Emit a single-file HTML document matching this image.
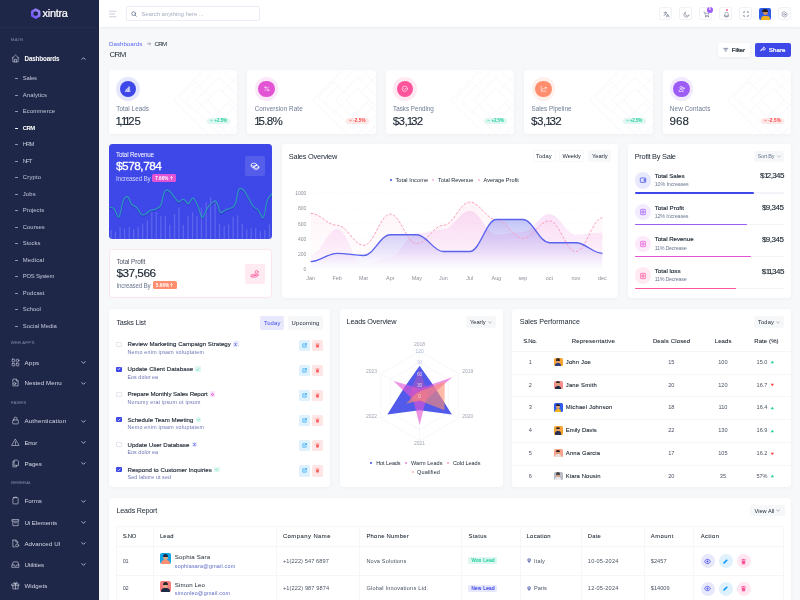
<!DOCTYPE html>
<html><head><meta charset="utf-8"><title>CRM</title>
<style>
*{box-sizing:border-box;margin:0;padding:0}
html,body{width:800px;height:600px;overflow:hidden;background:#f7f8fa;font-family:"Liberation Sans",sans-serif;color:#212b37}
#root{will-change:transform;position:absolute;left:0;top:0;width:800px;height:600px;overflow:hidden;background:#f7f8fa}
.a{position:absolute}
.t{position:absolute;white-space:nowrap;line-height:1}
.card{position:absolute;background:#fff;border-radius:3.5px;box-shadow:0 1px 4px rgba(10,10,40,.04)}
#sb{position:absolute;left:0;top:0;width:99px;height:600px;background:#1f2749}
#sb .dash{position:absolute;left:15.3px;width:3.2px;height:.9px;background:#979eb8;border-radius:1px}
#sb svg.ic{position:absolute;left:11px;width:9px;height:9px;fill:none;stroke:#d5d9e6;stroke-width:1.6;stroke-linecap:round;stroke-linejoin:round}
#sb svg.ch{position:absolute;left:81px;width:5px;height:5px;fill:none;stroke:#d0d4e2;stroke-width:1.9;stroke-linecap:round;stroke-linejoin:round}
#hd{position:absolute;left:99px;top:0;width:701px;height:27px;background:#fff;box-shadow:0 1px 3px rgba(10,10,40,.05)}
.hb{position:absolute;top:7.2px;width:13.3px;height:13.3px;border:.9px solid #eff1f6;border-radius:2.5px;background:#fff}
.hb svg{position:absolute;left:2.7px;top:2.7px;width:7px;height:7px;fill:none;stroke:#5b6581;stroke-width:1.7;stroke-linecap:round;stroke-linejoin:round}
</style></head><body><div id="root">
<!-- sidebar -->
<div id="sb">
<div class="a" style="left:0;top:27px;width:99px;height:1px;background:#27305394"></div>
<svg class="a" style="left:29.8px;top:7.7px;width:11.4px;height:11.4px" viewBox="0 0 22 22"><defs><linearGradient id="lg" x1="0" y1="1" x2="1" y2="0"><stop offset="0" stop-color="#6f4ff2"/><stop offset="1" stop-color="#9a8cfb"/></linearGradient></defs><path d="M11 3.3 L17.7 7.15 V14.85 L11 18.7 L4.3 14.85 V7.15 Z" fill="none" stroke="url(#lg)" stroke-width="4.9" stroke-linejoin="round"/></svg>
<div class="t" style="left:42.60px;top:8.27px;font-size:11px;color:#fff;letter-spacing:-0.301px;-webkit-text-stroke:0.22px #fff;">xintra</div>
<div class="t" style="left:10.80px;top:38.09px;font-size:4.3px;color:#6d7596;letter-spacing:0.483px;-webkit-text-stroke:0.12px #6d7596;">MAIN</div>
<svg class="ic" style="top:53.6px" viewBox="0 0 24 24"><path d="M3 11 L12 3 L21 11 M5 9.5 V21 H19 V9.5 M9.5 21 V14 H14.5 V21"/></svg>
<div class="t" style="left:24.50px;top:55.91px;font-size:6.3px;color:#fff;font-weight:bold;letter-spacing:-0.156px;">Dashboards</div>
<svg class="ch" style="top:56px" viewBox="0 0 12 12"><path d="M2 8 L6 4 L10 8"/></svg>
<div class="dash" style="top:78.0px"></div>
<div class="t" style="left:22.80px;top:76.06px;font-size:5.9px;color:#c3c8d9;letter-spacing:-0.125px;">Sales</div>
<div class="dash" style="top:94.5px"></div>
<div class="t" style="left:22.80px;top:92.57px;font-size:5.9px;color:#c3c8d9;letter-spacing:0.084px;">Analytics</div>
<div class="dash" style="top:111.0px"></div>
<div class="t" style="left:22.80px;top:109.09px;font-size:5.9px;color:#c3c8d9;letter-spacing:0.102px;">Ecommerce</div>
<div class="dash" style="top:127.5px;background:#fff"></div>
<div class="t" style="left:22.80px;top:125.60px;font-size:5.9px;color:#fff;font-weight:bold;letter-spacing:-0.586px;">CRM</div>
<div class="dash" style="top:144.0px"></div>
<div class="t" style="left:22.80px;top:142.12px;font-size:5.9px;color:#c3c8d9;letter-spacing:-0.961px;">HRM</div>
<div class="dash" style="top:160.5px"></div>
<div class="t" style="left:22.80px;top:158.63px;font-size:5.9px;color:#c3c8d9;letter-spacing:-0.977px;">NFT</div>
<div class="dash" style="top:177.0px"></div>
<div class="t" style="left:22.80px;top:175.15px;font-size:5.9px;color:#c3c8d9;letter-spacing:0.188px;">Crypto</div>
<div class="dash" style="top:193.6px"></div>
<div class="t" style="left:22.80px;top:191.66px;font-size:5.9px;color:#c3c8d9;letter-spacing:0.116px;">Jobs</div>
<div class="dash" style="top:210.1px"></div>
<div class="t" style="left:22.80px;top:208.18px;font-size:5.9px;color:#c3c8d9;">Projects</div>
<div class="dash" style="top:226.6px"></div>
<div class="t" style="left:22.80px;top:224.69px;font-size:5.9px;color:#c3c8d9;letter-spacing:0.010px;">Courses</div>
<div class="dash" style="top:243.1px"></div>
<div class="t" style="left:22.80px;top:241.21px;font-size:5.9px;color:#c3c8d9;letter-spacing:-0.017px;">Stocks</div>
<div class="dash" style="top:259.6px"></div>
<div class="t" style="left:22.80px;top:257.72px;font-size:5.9px;color:#c3c8d9;letter-spacing:0.165px;">Medical</div>
<div class="dash" style="top:276.1px"></div>
<div class="t" style="left:22.80px;top:274.24px;font-size:5.9px;color:#c3c8d9;letter-spacing:-0.247px;">POS System</div>
<div class="dash" style="top:292.6px"></div>
<div class="t" style="left:22.80px;top:290.75px;font-size:5.9px;color:#c3c8d9;letter-spacing:0.051px;">Podcast</div>
<div class="dash" style="top:309.2px"></div>
<div class="t" style="left:22.80px;top:307.27px;font-size:5.9px;color:#c3c8d9;">School</div>
<div class="dash" style="top:325.7px"></div>
<div class="t" style="left:22.80px;top:323.78px;font-size:5.9px;color:#c3c8d9;letter-spacing:0.033px;">Social Media</div>
<div class="t" style="left:10.80px;top:341.49px;font-size:4.3px;color:#6d7596;letter-spacing:0.183px;-webkit-text-stroke:0.12px #6d7596;">WEB APPS</div>
<div class="t" style="left:10.80px;top:400.99px;font-size:4.3px;color:#6d7596;letter-spacing:0.200px;-webkit-text-stroke:0.12px #6d7596;">PAGES</div>
<div class="t" style="left:10.80px;top:481.39px;font-size:4.3px;color:#6d7596;letter-spacing:0.026px;-webkit-text-stroke:0.12px #6d7596;">GENERAL</div>
<svg class="ic" style="top:357.6px" viewBox="0 0 24 24"><rect x="3" y="3" width="7" height="7" rx="1.5"/><rect x="3" y="14" width="7" height="7" rx="1.5"/><rect x="14" y="14" width="7" height="7" rx="1.5"/><circle cx="17.5" cy="6.5" r="3.5"/></svg>
<div class="t" style="left:24.40px;top:359.56px;font-size:6.2px;color:#d5d9e6;letter-spacing:0.230px;">Apps</div>
<svg class="ch" style="top:360.0px" viewBox="0 0 12 12"><path d="M2 4 L6 8 L10 4"/></svg>
<svg class="ic" style="top:378.2px" viewBox="0 0 24 24"><path d="M6 3 H14 L19 8 V21 H6 Z M14 3 V8 H19"/><circle cx="10" cy="15" r="3"/></svg>
<div class="t" style="left:24.40px;top:380.16px;font-size:6.2px;color:#d5d9e6;letter-spacing:0.049px;">Nested Menu</div>
<svg class="ch" style="top:380.6px" viewBox="0 0 12 12"><path d="M2 4 L6 8 L10 4"/></svg>
<svg class="ic" style="top:416.4px" viewBox="0 0 24 24"><rect x="4.5" y="10.5" width="15" height="10.5" rx="2"/><path d="M8 10.5 V7 a4 4 0 0 1 8 0 V10.5"/></svg>
<div class="t" style="left:24.40px;top:418.36px;font-size:6.2px;color:#d5d9e6;letter-spacing:0.199px;">Authentication</div>
<svg class="ch" style="top:418.8px" viewBox="0 0 12 12"><path d="M2 4 L6 8 L10 4"/></svg>
<svg class="ic" style="top:437.6px" viewBox="0 0 24 24"><path d="M12 3.5 L21.5 20 H2.5 Z M12 10 V14.5 M12 17.3 V17.5"/></svg>
<div class="t" style="left:24.40px;top:439.56px;font-size:6.2px;color:#d5d9e6;letter-spacing:-0.188px;">Error</div>
<svg class="ch" style="top:440.0px" viewBox="0 0 12 12"><path d="M2 4 L6 8 L10 4"/></svg>
<svg class="ic" style="top:458.7px" viewBox="0 0 24 24"><path d="M9 3 H17 L20 6 V17 H9 Z"/><path d="M9 7 H5 V21 H15 V17"/></svg>
<div class="t" style="left:24.40px;top:460.66px;font-size:6.2px;color:#d5d9e6;letter-spacing:-0.012px;">Pages</div>
<svg class="ch" style="top:461.1px" viewBox="0 0 12 12"><path d="M2 4 L6 8 L10 4"/></svg>
<svg class="ic" style="top:496.4px" viewBox="0 0 24 24"><rect x="5" y="4.5" width="14" height="16.5" rx="2"/><path d="M9 4.5 V3 H15 V4.5"/></svg>
<div class="t" style="left:24.40px;top:498.36px;font-size:6.2px;color:#d5d9e6;letter-spacing:-0.008px;">Forms</div>
<svg class="ch" style="top:498.8px" viewBox="0 0 12 12"><path d="M2 4 L6 8 L10 4"/></svg>
<svg class="ic" style="top:517.6px" viewBox="0 0 24 24"><path d="M3.5 4 H20.5 V8.5 H3.5 Z M5 8.5 V20.5 H19 V8.5 M9.5 12.5 H14.5"/></svg>
<div class="t" style="left:24.40px;top:519.56px;font-size:6.2px;color:#d5d9e6;letter-spacing:-0.056px;">Ui Elements</div>
<svg class="ch" style="top:520.0px" viewBox="0 0 12 12"><path d="M2 4 L6 8 L10 4"/></svg>
<svg class="ic" style="top:538.7px" viewBox="0 0 24 24"><path d="M5 3 H13 L18 8 V11 M13 3 V8 H18 M5 3 V21 H11"/><circle cx="16.5" cy="17" r="4"/></svg>
<div class="t" style="left:24.40px;top:540.66px;font-size:6.2px;color:#d5d9e6;letter-spacing:0.056px;">Advanced UI</div>
<svg class="ch" style="top:541.1px" viewBox="0 0 12 12"><path d="M2 4 L6 8 L10 4"/></svg>
<svg class="ic" style="top:559.8px" viewBox="0 0 24 24"><path d="M3 13 L6 5 H18 L21 13 V19.5 H3 Z M3 13 H8.5 a3.5 3.5 0 0 0 7 0 H21"/></svg>
<div class="t" style="left:24.40px;top:561.76px;font-size:6.2px;color:#d5d9e6;letter-spacing:-0.019px;">Utilities</div>
<svg class="ch" style="top:562.2px" viewBox="0 0 12 12"><path d="M2 4 L6 8 L10 4"/></svg>
<svg class="ic" style="top:580.9px" viewBox="0 0 24 24"><rect x="3" y="8" width="18" height="4.5"/><path d="M5 12.5 V21 H19 V12.5 M12 8 V21 M12 8 C9 8 7 6.5 7.5 4.5 C8.5 2.5 11.5 4 12 8 C12.5 4 15.5 2.5 16.5 4.5 C17 6.5 15 8 12 8"/></svg>
<div class="t" style="left:24.40px;top:582.86px;font-size:6.2px;color:#d5d9e6;letter-spacing:0.107px;">Widgets</div>
</div>
<!-- top -->
<div id="hd"></div>
<svg class="a" style="left:109px;top:10px;width:8px;height:8px" viewBox="0 0 16 16" fill="none" stroke="#b6bdd0" stroke-width="1.5" stroke-linecap="round"><path d="M1 2.5 H14 M1 8 H11 M1 13.5 H14"/></svg>
<div class="a" style="left:126px;top:6px;width:133.5px;height:14.5px;border:1px solid #e9edf6;border-radius:2px;background:#fff"></div>
<svg class="a" style="left:130.5px;top:10.5px;width:6px;height:6px" viewBox="0 0 12 12" fill="none" stroke="#6c7590" stroke-width="1.6" stroke-linecap="round"><circle cx="5.3" cy="5.3" r="3.8"/><path d="M8.2 8.2 L10.5 10.5"/></svg>
<div class="t" style="left:141.25px;top:11.31px;font-size:6.1px;color:#a8aec0;letter-spacing:-0.096px;">Search anything here ...</div>
<div class="hb" style="left:659.1px"><svg viewBox="0 0 24 24"><path d="M3 6 H13 M8 3 V6 M11.5 6 C10.5 11 7 14 3.5 15.5 M5.5 9.5 C7 12 9 13.5 11.5 14.5 M12 21 L16.5 10.5 L21 21 M13.8 17.5 H19.2"/></svg></div>
<div class="hb" style="left:679.1px"><svg viewBox="0 0 24 24"><path d="M20.5 14.5 A9 9 0 1 1 9.5 3.5 A7 7 0 0 0 20.5 14.5 Z"/></svg></div>
<div class="hb" style="left:699.1px"><svg viewBox="0 0 24 24"><path d="M3 4 H6 L8.5 15.5 H18.5 L20.5 7.5 H7"/><circle cx="9.5" cy="19.5" r="1.3"/><circle cx="17.5" cy="19.5" r="1.3"/></svg></div>
<div class="a" style="left:706.8px;top:6.9px;width:5.8px;height:5.8px;border-radius:50%;background:#9e5cf7"></div>
<div class="t" style="left:708.7px;top:8px;font-size:3.8px;color:#fff;font-weight:bold">5</div>
<div class="hb" style="left:719.1px"><svg viewBox="0 0 24 24"><path d="M6 17 V10.5 a6 6 0 0 1 12 0 V17 Z M4 17 H20 M10 20.5 H14"/></svg></div>
<div class="a" style="left:725.8px;top:9.2px;width:2.2px;height:2.2px;border-radius:50%;background:#fe549b"></div>
<div class="hb" style="left:739.1px"><svg viewBox="0 0 24 24" style="stroke-width:2.6;left:3.2px;top:3.2px;width:6px;height:6px"><path d="M3 8.5 V3 H8.5 M15.5 3 H21 V8.5 M21 15.5 V21 H15.5 M8.5 21 H3 V15.5" stroke-linecap="butt"/></svg></div>
<div class="a" style="left:759.25px;top:8px;width:12px;height:12px;border-radius:2px;background:#2f5bea;overflow:hidden">
  <div class="a" style="left:3.6px;top:2px;width:4.8px;height:5.4px;border-radius:50%;background:#c98a5e"></div>
  <div class="a" style="left:3.2px;top:1.2px;width:5.6px;height:2.8px;border-radius:3px 3px 0 0;background:#2a1c16"></div>
  <div class="a" style="left:1.8px;top:7.6px;width:8.6px;height:6px;border-radius:3px 3px 0 0;background:#f2b21c"></div>
</div>
<div class="hb" style="left:777.5px"><svg viewBox="0 0 24 24"><circle cx="12" cy="12" r="3.2"/><path d="M12 2.5 L20.2 7.25 V16.75 L12 21.5 L3.8 16.75 V7.25 Z"/></svg></div>

<div class="t" style="left:109.00px;top:41.36px;font-size:6.2px;color:#5c67f7;letter-spacing:-0.014px;">Dashboards</div>
<svg class="a" style="left:146.8px;top:42px;width:4px;height:3.6px" viewBox="0 0 10 9" fill="none" stroke="#6e7a93" stroke-width="1.3" stroke-linecap="round" stroke-linejoin="round"><path d="M1 4.5 H9 M6 1.5 L9 4.5 L6 7.5"/></svg>
<div class="t" style="left:154.60px;top:41.36px;font-size:6.2px;color:#212b37;letter-spacing:-0.797px;">CRM</div>
<div class="t" style="left:109.40px;top:50.93px;font-size:7.9px;color:#212b37;letter-spacing:-0.542px;">CRM</div>
<div class="a" style="left:717.5px;top:42.5px;width:32.5px;height:14px;background:#fff;border-radius:2px;box-shadow:0 1px 3px rgba(10,10,40,.06)"></div>
<svg class="a" style="left:723px;top:46.6px;width:5.5px;height:5.5px" viewBox="0 0 12 12" fill="none" stroke="#5b6581" stroke-width="1.5" stroke-linecap="round"><path d="M1.5 3 H10.5 M3.5 6 H8.5 M5.2 9 H6.8"/></svg>
<div class="t" style="left:731.75px;top:46.96px;font-size:6.2px;color:#212b37;letter-spacing:-0.100px;-webkit-text-stroke:0.22px #212b37;">Filter</div>
<div class="a" style="left:754.6px;top:42.5px;width:36.6px;height:14px;background:#3e48e8;border-radius:2px"></div>
<svg class="a" style="left:759.5px;top:46px;width:6.5px;height:6.5px" viewBox="0 0 14 14" fill="none" stroke="#fff" stroke-width="1.6" stroke-linecap="round" stroke-linejoin="round"><path d="M8 2.5 L12 6 L8 9.5 V7.3 C5 7.3 3 8.3 1.8 11 C2 7.5 4 4.8 8 4.6 Z"/></svg>
<div class="t" style="left:768.75px;top:46.96px;font-size:6.2px;color:#fff;letter-spacing:0.059px;-webkit-text-stroke:0.22px #fff;">Share</div>
<div class="card" style="left:109.0px;top:70px;width:128.4px;height:63.5px;overflow:hidden"><svg class="a" style="right:0;top:0;width:75px;height:63.5px" viewBox="0 0 75 63.5" fill="none" stroke="#fafafd" stroke-width="1.1"><g transform="translate(57 30) rotate(45)"><rect x="-8" y="-8" width="16" height="16"/><rect x="-16" y="-16" width="32" height="32"/><rect x="-24" y="-24" width="48" height="48"/><rect x="-32" y="-32" width="64" height="64"/><rect x="-4" y="-30" width="22" height="22"/><rect x="8" y="-4" width="22" height="22"/><rect x="-30" y="4" width="22" height="22"/></g></svg></div>
<div class="a" style="left:116.30px;top:77px;width:23.6px;height:23.6px;border-radius:50%;background:rgba(62,72,232,0.13)"></div>
<div class="a" style="left:119.85px;top:80.55px;width:16.5px;height:16.5px;border-radius:50%;background:#3e48e8"></div>
<svg class="a" style="left:124.35px;top:85.05px;width:7.5px;height:7.5px" viewBox="0 0 24 24" fill="none" stroke="#fff" stroke-width="1.9" stroke-linecap="round" stroke-linejoin="round"><path d="M4 20 H20 M6 20 V15 H10 V20 M10 20 V11 H14 V20 M14 20 V6 H18 V20" /></svg>
<div class="t" style="left:116.25px;top:106.21px;font-size:6.3px;color:#6e7a93;letter-spacing:0.053px;">Total Leads</div>
<div class="t" style="left:115.40px;top:115.51px;font-size:11.4px;color:#212b37;-webkit-text-stroke:0.12px #212b37;"><span style="letter-spacing:-2.4px">1</span><span style="letter-spacing:-1.4px">,</span><span style="letter-spacing:-2.4px">11</span>25</div>
<div class="a" style="left:207.30px;top:117.5px;width:23px;height:6.6px;border-radius:3.3px;background:#dff7f0"></div>
<svg class="a" style="left:210.30px;top:119.3px;width:3px;height:3px" viewBox="0 0 6 6" fill="none" stroke="#21ce9e" stroke-width="1.2" stroke-linecap="round" stroke-linejoin="round"><path d="M1 4.2 L3 1.8 L5 4.2"/></svg>
<div class="t" style="left:214.60px;top:119.40px;font-size:4.5px;color:#21ce9e;font-weight:bold;letter-spacing:-0.098px;">+2.5%</div>
<div class="card" style="left:247.4px;top:70px;width:128.4px;height:63.5px;overflow:hidden"><svg class="a" style="right:0;top:0;width:75px;height:63.5px" viewBox="0 0 75 63.5" fill="none" stroke="#fafafd" stroke-width="1.1"><g transform="translate(57 30) rotate(45)"><rect x="-8" y="-8" width="16" height="16"/><rect x="-16" y="-16" width="32" height="32"/><rect x="-24" y="-24" width="48" height="48"/><rect x="-32" y="-32" width="64" height="64"/><rect x="-4" y="-30" width="22" height="22"/><rect x="8" y="-4" width="22" height="22"/><rect x="-30" y="4" width="22" height="22"/></g></svg></div>
<div class="a" style="left:254.70px;top:77px;width:23.6px;height:23.6px;border-radius:50%;background:rgba(227,84,212,0.13)"></div>
<div class="a" style="left:258.25px;top:80.55px;width:16.5px;height:16.5px;border-radius:50%;background:#e354d4"></div>
<svg class="a" style="left:262.75px;top:85.05px;width:7.5px;height:7.5px" viewBox="0 0 24 24" fill="none" stroke="#fff" stroke-width="1.9" stroke-linecap="round" stroke-linejoin="round"><path d="M18 6 L6 18"/><circle cx="7.5" cy="7.5" r="2.2"/><circle cx="16.5" cy="16.5" r="2.2"/></svg>
<div class="t" style="left:254.65px;top:106.21px;font-size:6.3px;color:#6e7a93;letter-spacing:0.078px;">Conversion Rate</div>
<div class="t" style="left:254.30px;top:115.42px;font-size:11.6px;color:#212b37;-webkit-text-stroke:0.12px #212b37;"><span style="letter-spacing:-2.2px">1</span><span style="letter-spacing:-0.7px">5.8%</span></div>
<div class="a" style="left:345.70px;top:117.5px;width:23px;height:6.6px;border-radius:3.3px;background:#fee7e7"></div>
<svg class="a" style="left:348.70px;top:119.3px;width:3px;height:3px" viewBox="0 0 6 6" fill="none" stroke="#fb4242" stroke-width="1.2" stroke-linecap="round" stroke-linejoin="round"><path d="M1 1.8 L3 4.2 L5 1.8"/></svg>
<div class="t" style="left:353.00px;top:119.40px;font-size:4.5px;color:#fb4242;font-weight:bold;letter-spacing:0.184px;">-2.5%</div>
<div class="card" style="left:385.8px;top:70px;width:128.4px;height:63.5px;overflow:hidden"><svg class="a" style="right:0;top:0;width:75px;height:63.5px" viewBox="0 0 75 63.5" fill="none" stroke="#fafafd" stroke-width="1.1"><g transform="translate(57 30) rotate(45)"><rect x="-8" y="-8" width="16" height="16"/><rect x="-16" y="-16" width="32" height="32"/><rect x="-24" y="-24" width="48" height="48"/><rect x="-32" y="-32" width="64" height="64"/><rect x="-4" y="-30" width="22" height="22"/><rect x="8" y="-4" width="22" height="22"/><rect x="-30" y="4" width="22" height="22"/></g></svg></div>
<div class="a" style="left:393.10px;top:77px;width:23.6px;height:23.6px;border-radius:50%;background:rgba(254,84,155,0.13)"></div>
<div class="a" style="left:396.65px;top:80.55px;width:16.5px;height:16.5px;border-radius:50%;background:#fe549b"></div>
<svg class="a" style="left:401.15px;top:85.05px;width:7.5px;height:7.5px" viewBox="0 0 24 24" fill="none" stroke="#fff" stroke-width="1.9" stroke-linecap="round" stroke-linejoin="round"><circle cx="12" cy="12" r="8.5"/><path d="M8.5 12.2 L11 14.7 L15.8 9.8"/></svg>
<div class="t" style="left:393.05px;top:106.21px;font-size:6.3px;color:#6e7a93;letter-spacing:-0.014px;">Tasks Pending</div>
<div class="t" style="left:392.70px;top:115.42px;font-size:11.6px;color:#212b37;-webkit-text-stroke:0.12px #212b37;"><span style="letter-spacing:-0.55px">$3</span><span style="letter-spacing:-1.0px">,</span><span style="letter-spacing:-2.2px">1</span><span style="letter-spacing:-0.55px">32</span></div>
<div class="a" style="left:484.10px;top:117.5px;width:23px;height:6.6px;border-radius:3.3px;background:#dff7f0"></div>
<svg class="a" style="left:487.10px;top:119.3px;width:3px;height:3px" viewBox="0 0 6 6" fill="none" stroke="#21ce9e" stroke-width="1.2" stroke-linecap="round" stroke-linejoin="round"><path d="M1 4.2 L3 1.8 L5 4.2"/></svg>
<div class="t" style="left:491.40px;top:119.40px;font-size:4.5px;color:#21ce9e;font-weight:bold;letter-spacing:-0.098px;">+2.5%</div>
<div class="card" style="left:524.2px;top:70px;width:128.4px;height:63.5px;overflow:hidden"><svg class="a" style="right:0;top:0;width:75px;height:63.5px" viewBox="0 0 75 63.5" fill="none" stroke="#fafafd" stroke-width="1.1"><g transform="translate(57 30) rotate(45)"><rect x="-8" y="-8" width="16" height="16"/><rect x="-16" y="-16" width="32" height="32"/><rect x="-24" y="-24" width="48" height="48"/><rect x="-32" y="-32" width="64" height="64"/><rect x="-4" y="-30" width="22" height="22"/><rect x="8" y="-4" width="22" height="22"/><rect x="-30" y="4" width="22" height="22"/></g></svg></div>
<div class="a" style="left:531.50px;top:77px;width:23.6px;height:23.6px;border-radius:50%;background:rgba(255,142,111,0.13)"></div>
<div class="a" style="left:535.05px;top:80.55px;width:16.5px;height:16.5px;border-radius:50%;background:#ff8e6f"></div>
<svg class="a" style="left:539.55px;top:85.05px;width:7.5px;height:7.5px" viewBox="0 0 24 24" fill="none" stroke="#fff" stroke-width="1.9" stroke-linecap="round" stroke-linejoin="round"><path d="M4 4 V20 H20 M7 15 L11 11 L14 13.5 L19 8 M19 8 H16 M19 8 V11"/></svg>
<div class="t" style="left:531.45px;top:106.21px;font-size:6.3px;color:#6e7a93;letter-spacing:0.007px;">Sales Pipeline</div>
<div class="t" style="left:531.10px;top:115.42px;font-size:11.6px;color:#212b37;-webkit-text-stroke:0.12px #212b37;"><span style="letter-spacing:-0.55px">$3</span><span style="letter-spacing:-1.0px">,</span><span style="letter-spacing:-2.2px">1</span><span style="letter-spacing:-0.55px">32</span></div>
<div class="a" style="left:622.50px;top:117.5px;width:23px;height:6.6px;border-radius:3.3px;background:#dff7f0"></div>
<svg class="a" style="left:625.50px;top:119.3px;width:3px;height:3px" viewBox="0 0 6 6" fill="none" stroke="#21ce9e" stroke-width="1.2" stroke-linecap="round" stroke-linejoin="round"><path d="M1 4.2 L3 1.8 L5 4.2"/></svg>
<div class="t" style="left:629.80px;top:119.40px;font-size:4.5px;color:#21ce9e;font-weight:bold;letter-spacing:-0.098px;">+2.5%</div>
<div class="card" style="left:662.6px;top:70px;width:128.4px;height:63.5px;overflow:hidden"><svg class="a" style="right:0;top:0;width:75px;height:63.5px" viewBox="0 0 75 63.5" fill="none" stroke="#fafafd" stroke-width="1.1"><g transform="translate(57 30) rotate(45)"><rect x="-8" y="-8" width="16" height="16"/><rect x="-16" y="-16" width="32" height="32"/><rect x="-24" y="-24" width="48" height="48"/><rect x="-32" y="-32" width="64" height="64"/><rect x="-4" y="-30" width="22" height="22"/><rect x="8" y="-4" width="22" height="22"/><rect x="-30" y="4" width="22" height="22"/></g></svg></div>
<div class="a" style="left:669.90px;top:77px;width:23.6px;height:23.6px;border-radius:50%;background:rgba(158,92,247,0.13)"></div>
<div class="a" style="left:673.45px;top:80.55px;width:16.5px;height:16.5px;border-radius:50%;background:#9e5cf7"></div>
<svg class="a" style="left:677.95px;top:85.05px;width:7.5px;height:7.5px" viewBox="0 0 24 24" fill="none" stroke="#fff" stroke-width="1.9" stroke-linecap="round" stroke-linejoin="round"><circle cx="10" cy="8.5" r="4"/><path d="M3 19.5 C3 15.5 6 14 10 14 C14 14 17 15.5 17 19.5 Z M19 8 V13 M16.5 10.5 H21.5"/></svg>
<div class="t" style="left:669.85px;top:106.21px;font-size:6.3px;color:#6e7a93;letter-spacing:0.118px;">New Contacts</div>
<div class="t" style="left:669.50px;top:115.42px;font-size:11.6px;color:#212b37;-webkit-text-stroke:0.12px #212b37;">968</div>
<div class="a" style="left:760.90px;top:117.5px;width:23px;height:6.6px;border-radius:3.3px;background:#fee7e7"></div>
<svg class="a" style="left:763.90px;top:119.3px;width:3px;height:3px" viewBox="0 0 6 6" fill="none" stroke="#fb4242" stroke-width="1.2" stroke-linecap="round" stroke-linejoin="round"><path d="M1 1.8 L3 4.2 L5 1.8"/></svg>
<div class="t" style="left:768.20px;top:119.40px;font-size:4.5px;color:#fb4242;font-weight:bold;letter-spacing:0.184px;">-2.5%</div>
<!-- row2 -->
<div class="a" style="left:109.2px;top:143.9px;width:162.9px;height:95px;background:#3e48e8;border-radius:3.5px;overflow:hidden">
<svg class="a" style="left:0;top:0;width:162.9px;height:95px" viewBox="0 0 162.9 95"><rect x="1.52" y="86.04" width="1.3" height="8.96" fill="rgba(255,255,255,.16)"/><rect x="5.77" y="87.52" width="1.3" height="7.48" fill="rgba(255,255,255,.16)"/><rect x="10.45" y="83.27" width="1.3" height="11.73" fill="rgba(255,255,255,.16)"/><rect x="14.91" y="84.55" width="1.3" height="10.45" fill="rgba(255,255,255,.16)"/><rect x="19.59" y="83.27" width="1.3" height="11.73" fill="rgba(255,255,255,.16)"/><rect x="24.05" y="85.40" width="1.3" height="9.60" fill="rgba(255,255,255,.16)"/><rect x="28.51" y="83.27" width="1.3" height="11.73" fill="rgba(255,255,255,.16)"/><rect x="32.97" y="79.66" width="1.3" height="15.34" fill="rgba(255,255,255,.16)"/><rect x="37.65" y="76.47" width="1.3" height="18.53" fill="rgba(255,255,255,.16)"/><rect x="42.11" y="67.97" width="1.3" height="27.03" fill="rgba(255,255,255,.16)"/><rect x="46.57" y="67.97" width="1.3" height="27.03" fill="rgba(255,255,255,.16)"/><rect x="51.25" y="72.22" width="1.3" height="22.78" fill="rgba(255,255,255,.16)"/><rect x="55.71" y="72.22" width="1.3" height="22.78" fill="rgba(255,255,255,.16)"/><rect x="60.17" y="80.72" width="1.3" height="14.28" fill="rgba(255,255,255,.16)"/><rect x="64.85" y="70.10" width="1.3" height="24.90" fill="rgba(255,255,255,.16)"/><rect x="69.31" y="63.72" width="1.3" height="31.28" fill="rgba(255,255,255,.16)"/><rect x="73.77" y="81.15" width="1.3" height="13.85" fill="rgba(255,255,255,.16)"/><rect x="78.45" y="71.80" width="1.3" height="23.20" fill="rgba(255,255,255,.16)"/><rect x="82.91" y="68.40" width="1.3" height="26.60" fill="rgba(255,255,255,.16)"/><rect x="87.37" y="72.22" width="1.3" height="22.78" fill="rgba(255,255,255,.16)"/><rect x="91.84" y="63.72" width="1.3" height="31.28" fill="rgba(255,255,255,.16)"/><rect x="96.51" y="58.41" width="1.3" height="36.59" fill="rgba(255,255,255,.16)"/><rect x="100.97" y="53.10" width="1.3" height="41.90" fill="rgba(255,255,255,.16)"/><rect x="105.43" y="56.29" width="1.3" height="38.71" fill="rgba(255,255,255,.16)"/><rect x="109.90" y="79.66" width="1.3" height="15.34" fill="rgba(255,255,255,.16)"/><rect x="114.57" y="81.79" width="1.3" height="13.21" fill="rgba(255,255,255,.16)"/><rect x="119.03" y="80.30" width="1.3" height="14.70" fill="rgba(255,255,255,.16)"/><rect x="123.50" y="72.65" width="1.3" height="22.35" fill="rgba(255,255,255,.16)"/><rect x="127.96" y="71.16" width="1.3" height="23.84" fill="rgba(255,255,255,.16)"/><rect x="132.63" y="79.66" width="1.3" height="15.34" fill="rgba(255,255,255,.16)"/><rect x="137.10" y="85.40" width="1.3" height="9.60" fill="rgba(255,255,255,.16)"/><rect x="141.56" y="84.55" width="1.3" height="10.45" fill="rgba(255,255,255,.16)"/><rect x="146.02" y="83.91" width="1.3" height="11.09" fill="rgba(255,255,255,.16)"/><rect x="150.70" y="87.10" width="1.3" height="7.90" fill="rgba(255,255,255,.16)"/><rect x="155.16" y="86.04" width="1.3" height="8.96" fill="rgba(255,255,255,.16)"/><rect x="159.83" y="79.66" width="1.3" height="15.34" fill="rgba(255,255,255,.16)"/><path d="M-0.38 63.30 Q4.30 62.87 5.57 65.42 Q6.85 67.97 8.23 71.48 Q9.61 74.99 10.67 71.48 Q11.74 67.97 12.80 62.13 Q13.86 56.29 15.99 53.95 Q18.11 51.61 19.17 53.42 Q20.24 55.22 21.30 58.20 Q22.36 61.17 25.02 61.92 Q27.67 62.66 29.27 65.85 Q30.86 69.04 31.92 70.21 Q32.99 71.37 35.11 70.74 Q37.24 70.10 39.36 67.97 Q41.49 65.85 43.61 65.85 Q45.74 65.85 47.86 64.57 Q49.99 63.30 51.05 62.45 Q52.11 61.60 53.17 56.29 Q54.24 50.97 55.30 48.32 Q56.36 45.66 58.49 46.19 Q60.61 46.72 62.20 49.06 Q63.80 51.40 65.39 53.31 Q66.99 55.22 68.37 56.82 Q69.75 58.41 71.02 57.35 Q72.30 56.29 73.57 55.54 Q74.85 54.80 76.23 56.61 Q77.61 58.41 78.67 59.47 Q79.74 60.54 81.33 57.35 Q82.92 54.16 83.77 54.16 Q84.62 54.16 85.90 56.29 Q87.17 58.41 88.24 60.54 Q89.30 62.66 90.36 66.38 Q91.42 70.10 92.27 72.54 Q93.12 74.99 94.40 72.54 Q95.67 70.10 96.73 67.44 Q97.80 64.79 99.92 62.13 Q102.05 59.47 104.17 57.88 Q106.30 56.29 107.36 57.88 Q108.42 59.47 109.27 62.66 Q110.12 65.85 110.97 67.76 Q111.82 69.67 113.84 67.76 Q115.86 65.85 117.98 65.32 Q120.11 64.79 122.77 63.72 Q125.42 62.66 126.48 59.47 Q127.55 56.29 128.61 49.91 Q129.67 43.54 132.33 44.60 Q134.98 45.66 136.58 48.85 Q138.17 52.04 139.77 54.69 Q141.36 57.35 142.95 60.54 Q144.55 63.72 146.67 64.26 Q148.80 64.79 150.39 67.97 Q151.98 71.16 152.83 73.07 Q153.68 74.99 154.64 73.07 Q155.60 71.16 156.66 63.72 Q157.72 56.29 160.16 53.10 Q162.61 49.91 164.20 48.85 L165.80 47.79" transform="translate(0 1.2)" fill="none" stroke="rgba(20,20,120,.22)" stroke-width="1.4"/><path d="M-0.38 63.30 Q4.30 62.87 5.57 65.42 Q6.85 67.97 8.23 71.48 Q9.61 74.99 10.67 71.48 Q11.74 67.97 12.80 62.13 Q13.86 56.29 15.99 53.95 Q18.11 51.61 19.17 53.42 Q20.24 55.22 21.30 58.20 Q22.36 61.17 25.02 61.92 Q27.67 62.66 29.27 65.85 Q30.86 69.04 31.92 70.21 Q32.99 71.37 35.11 70.74 Q37.24 70.10 39.36 67.97 Q41.49 65.85 43.61 65.85 Q45.74 65.85 47.86 64.57 Q49.99 63.30 51.05 62.45 Q52.11 61.60 53.17 56.29 Q54.24 50.97 55.30 48.32 Q56.36 45.66 58.49 46.19 Q60.61 46.72 62.20 49.06 Q63.80 51.40 65.39 53.31 Q66.99 55.22 68.37 56.82 Q69.75 58.41 71.02 57.35 Q72.30 56.29 73.57 55.54 Q74.85 54.80 76.23 56.61 Q77.61 58.41 78.67 59.47 Q79.74 60.54 81.33 57.35 Q82.92 54.16 83.77 54.16 Q84.62 54.16 85.90 56.29 Q87.17 58.41 88.24 60.54 Q89.30 62.66 90.36 66.38 Q91.42 70.10 92.27 72.54 Q93.12 74.99 94.40 72.54 Q95.67 70.10 96.73 67.44 Q97.80 64.79 99.92 62.13 Q102.05 59.47 104.17 57.88 Q106.30 56.29 107.36 57.88 Q108.42 59.47 109.27 62.66 Q110.12 65.85 110.97 67.76 Q111.82 69.67 113.84 67.76 Q115.86 65.85 117.98 65.32 Q120.11 64.79 122.77 63.72 Q125.42 62.66 126.48 59.47 Q127.55 56.29 128.61 49.91 Q129.67 43.54 132.33 44.60 Q134.98 45.66 136.58 48.85 Q138.17 52.04 139.77 54.69 Q141.36 57.35 142.95 60.54 Q144.55 63.72 146.67 64.26 Q148.80 64.79 150.39 67.97 Q151.98 71.16 152.83 73.07 Q153.68 74.99 154.64 73.07 Q155.60 71.16 156.66 63.72 Q157.72 56.29 160.16 53.10 Q162.61 49.91 164.20 48.85 L165.80 47.79" fill="none" stroke="#2b98bc" stroke-width="1.2" stroke-linecap="round"/></svg>
</div>
<div class="t" style="left:116.00px;top:152.01px;font-size:6.3px;color:#fff;letter-spacing:-0.180px;">Total Revenue</div>
<div class="t" style="left:116.00px;top:161.02px;font-size:11.8px;color:#fff;letter-spacing:-0.474px;-webkit-text-stroke:0.3px #fff;">$578,784</div>
<div class="t" style="left:116.00px;top:175.51px;font-size:6.3px;color:rgba(255,255,255,.72);letter-spacing:-0.188px;">Increased By</div>
<div class="a" style="left:152.2px;top:174.4px;width:23.9px;height:8.1px;border-radius:1.5px;background:#e354d4"></div><svg class="a" style="left:169.6px;top:176.4px;width:3px;height:4px" viewBox="0 0 6 8" fill="none" stroke="#fff" stroke-width="1.3" stroke-linecap="round" stroke-linejoin="round"><path d="M3 7 V1.2 M0.9 3.2 L3 1.1 L5.1 3.2"/></svg>
<div class="t" style="left:155.20px;top:176.85px;font-size:4.6px;color:#fff;font-weight:bold;letter-spacing:0.042px;">7.66%</div>
<div class="a" style="left:245.3px;top:155.9px;width:20.2px;height:20.3px;border-radius:2px;background:rgba(255,255,255,.12)"></div>
<svg class="a" style="left:250.4px;top:161px;width:10px;height:10px" viewBox="0 0 24 24" fill="none" stroke="#fff" stroke-width="1.8" stroke-linecap="round" stroke-linejoin="round"><ellipse cx="9.5" cy="9" rx="6.5" ry="4"/><path d="M3 9 V12.5 C3 14.7 6 16.5 9.5 16.5 M16 9 V11"/><ellipse cx="15" cy="14" rx="6" ry="3.7"/><path d="M9 14 V16.5 C9 18.7 11.7 20.2 15 20.2 C18.3 20.2 21 18.7 21 16.5 V14"/></svg>
<div class="card" style="left:109.2px;top:248.8px;width:162.9px;height:49.3px;border:1px solid #fde4ee;box-shadow:none"></div>
<div class="t" style="left:116.50px;top:259.21px;font-size:6.3px;color:#4a5263;letter-spacing:-0.086px;">Total Profit</div>
<div class="t" style="left:116.50px;top:267.92px;font-size:11.8px;color:#212b37;letter-spacing:-0.526px;-webkit-text-stroke:0.15px #212b37;">$37,566</div>
<div class="t" style="left:116.50px;top:282.91px;font-size:6.3px;color:#6e7a93;letter-spacing:-0.233px;">Increased By</div>
<div class="a" style="left:152.8px;top:281.2px;width:24.2px;height:8px;border-radius:1.5px;background:#ff8e6f"></div><svg class="a" style="left:170.4px;top:283.2px;width:3px;height:4px" viewBox="0 0 6 8" fill="none" stroke="#fff" stroke-width="1.3" stroke-linecap="round" stroke-linejoin="round"><path d="M3 7 V1.2 M0.9 3.2 L3 1.1 L5.1 3.2"/></svg>
<div class="t" style="left:155.80px;top:283.65px;font-size:4.6px;color:#fff;font-weight:bold;letter-spacing:0.092px;">5.66%</div>
<div class="a" style="left:245px;top:263.6px;width:20.3px;height:20.4px;border-radius:2px;background:#ffeaf2"></div>
<svg class="a" style="left:250.2px;top:268.6px;width:10px;height:10px" viewBox="0 0 24 24" fill="none" stroke="#fe549b" stroke-width="1.8" stroke-linecap="round" stroke-linejoin="round"><path d="M2.5 14 H6 L10 12.5 H14 C15.5 12.5 15.5 15 14 15 H10.5 M14.5 15 L19.5 13 C21 12.5 22 14.3 20.5 15.2 L13 19.5 H6 L2.5 18 Z"/><circle cx="16" cy="7" r="3.3"/></svg>
<div class="card" style="left:282.1px;top:143.9px;width:335.8px;height:153.8px"></div>
<div class="t" style="left:288.80px;top:152.57px;font-size:7.4px;color:#212b37;letter-spacing:-0.219px;">Sales Overview</div>
<div class="a" style="left:532.5px;top:150.4px;width:23px;height:11.8px;border-radius:2px;background:#fff;border:.8px solid #f7f8fa"></div>
<div class="t" style="left:536.00px;top:154.31px;font-size:5.7px;color:#212b37;letter-spacing:0.078px;">Today</div>
<div class="a" style="left:558.7px;top:150.4px;width:25.8px;height:11.8px;border-radius:2px;background:#fff;border:.8px solid #f7f8fa"></div>
<div class="t" style="left:562.40px;top:154.31px;font-size:5.7px;color:#212b37;letter-spacing:-0.029px;">Weekly</div>
<div class="a" style="left:588px;top:150.4px;width:22.7px;height:11.8px;border-radius:2px;background:#f6f7f9;border:.8px solid #f7f8fa"></div>
<div class="t" style="left:592.00px;top:154.31px;font-size:5.7px;color:#212b37;letter-spacing:-0.022px;">Yearly</div>
<div class="a" style="left:389.7px;top:179.1px;width:2px;height:2px;border-radius:50%;background:#3e48e8"></div>
<div class="t" style="left:395.50px;top:178.06px;font-size:5.6px;color:#212b37;letter-spacing:0.071px;">Total Income</div>
<div class="a" style="left:432.3px;top:179.1px;width:2px;height:2px;border-radius:50%;background:#f5b6e6"></div>
<div class="t" style="left:438.10px;top:178.06px;font-size:5.6px;color:#212b37;letter-spacing:-0.047px;">Total Revenue</div>
<div class="a" style="left:477.7px;top:179.1px;width:2px;height:2px;border-radius:50%;background:#fbb3cd"></div>
<div class="t" style="left:483.50px;top:178.06px;font-size:5.6px;color:#212b37;letter-spacing:0.004px;">Average Profit</div>
<svg class="a" style="left:0;top:0;width:800px;height:600px" viewBox="0 0 800 600"><defs><linearGradient id="gi" x1="0" y1="0" x2="0" y2="1"><stop offset="0" stop-color="#3e48e8" stop-opacity=".32"/><stop offset=".6" stop-color="#7d6ff0" stop-opacity=".18"/><stop offset="1" stop-color="#b9a8f8" stop-opacity=".03"/></linearGradient><linearGradient id="gr" x1="0" y1="0" x2="0" y2="1"><stop offset="0" stop-color="#e354d4" stop-opacity=".17"/><stop offset=".7" stop-color="#e354d4" stop-opacity=".08"/><stop offset="1" stop-color="#e354d4" stop-opacity=".0"/></linearGradient><linearGradient id="ga" x1="0" y1="0" x2="0" y2="1"><stop offset="0" stop-color="#fe549b" stop-opacity=".07"/><stop offset="1" stop-color="#fe549b" stop-opacity=".0"/></linearGradient></defs><line x1="310.7" x2="602.4" y1="268.30" y2="268.30" stroke="#f3f4f7" stroke-width=".6" stroke-dasharray="1.2 1.2"/><line x1="310.7" x2="602.4" y1="253.25" y2="253.25" stroke="#f3f4f7" stroke-width=".6" stroke-dasharray="1.2 1.2"/><line x1="310.7" x2="602.4" y1="238.20" y2="238.20" stroke="#f3f4f7" stroke-width=".6" stroke-dasharray="1.2 1.2"/><line x1="310.7" x2="602.4" y1="223.15" y2="223.15" stroke="#f3f4f7" stroke-width=".6" stroke-dasharray="1.2 1.2"/><line x1="310.7" x2="602.4" y1="208.10" y2="208.10" stroke="#f3f4f7" stroke-width=".6" stroke-dasharray="1.2 1.2"/><line x1="310.7" x2="602.4" y1="193.05" y2="193.05" stroke="#f3f4f7" stroke-width=".6" stroke-dasharray="1.2 1.2"/><path d="M310.70 213.37 C320.90 213.37 327.02 225.33 337.22 225.33 C347.42 225.33 353.54 245.35 363.74 245.35 C373.94 245.35 380.06 214.12 390.26 214.12 C400.46 214.12 406.58 243.47 416.78 243.47 C426.98 243.47 433.10 225.33 443.30 225.33 C453.50 225.33 459.62 202.08 469.82 202.08 C480.02 202.08 486.14 219.54 496.34 219.54 C506.54 219.54 512.66 238.20 522.86 238.20 C533.06 238.20 539.18 220.82 549.38 220.82 C559.58 220.82 565.70 251.52 575.90 251.52 C586.10 251.52 592.22 217.88 602.42 217.88 L602.42 268.30 L310.70 268.30 Z" fill="url(#ga)"/><path d="M310.70 254.76 C320.90 254.76 327.02 229.32 337.22 229.32 C347.42 229.32 353.54 264.54 363.74 264.54 C373.94 264.54 380.06 257.01 390.26 257.01 C400.46 257.01 406.58 233.31 416.78 233.31 C426.98 233.31 433.10 229.17 443.30 229.17 C453.50 229.17 459.62 210.73 469.82 210.73 C480.02 210.73 486.14 234.66 496.34 234.66 C506.54 234.66 512.66 232.03 522.86 232.03 C533.06 232.03 539.18 214.12 549.38 214.12 C559.58 214.12 565.70 234.66 575.90 234.66 C586.10 234.66 592.22 232.78 602.42 232.78 L602.42 268.30 L310.70 268.30 Z" fill="url(#gr)"/><path d="M310.70 261.60 C320.90 261.60 327.02 253.33 337.22 253.33 C347.42 253.33 353.54 255.51 363.74 255.51 C373.94 255.51 380.06 234.74 390.26 234.74 C400.46 234.74 406.58 234.74 416.78 234.74 C426.98 234.74 433.10 251.52 443.30 251.52 C453.50 251.52 459.62 251.52 469.82 251.52 C480.02 251.52 486.14 219.54 496.34 219.54 C506.54 219.54 512.66 219.54 522.86 219.54 C533.06 219.54 539.18 242.72 549.38 242.72 C559.58 242.72 565.70 242.72 575.90 242.72 C586.10 242.72 592.22 253.33 602.42 253.33 L602.42 268.30 L310.70 268.30 Z" fill="url(#gi)"/><path d="M310.70 213.37 C320.90 213.37 327.02 225.33 337.22 225.33 C347.42 225.33 353.54 245.35 363.74 245.35 C373.94 245.35 380.06 214.12 390.26 214.12 C400.46 214.12 406.58 243.47 416.78 243.47 C426.98 243.47 433.10 225.33 443.30 225.33 C453.50 225.33 459.62 202.08 469.82 202.08 C480.02 202.08 486.14 219.54 496.34 219.54 C506.54 219.54 512.66 238.20 522.86 238.20 C533.06 238.20 539.18 220.82 549.38 220.82 C559.58 220.82 565.70 251.52 575.90 251.52 C586.10 251.52 592.22 217.88 602.42 217.88" fill="none" stroke="#fa9fc0" stroke-width="1.0" stroke-dasharray="2.7 1.5"/><path d="M310.70 261.60 C320.90 261.60 327.02 253.33 337.22 253.33 C347.42 253.33 353.54 255.51 363.74 255.51 C373.94 255.51 380.06 234.74 390.26 234.74 C400.46 234.74 406.58 234.74 416.78 234.74 C426.98 234.74 433.10 251.52 443.30 251.52 C453.50 251.52 459.62 251.52 469.82 251.52 C480.02 251.52 486.14 219.54 496.34 219.54 C506.54 219.54 512.66 219.54 522.86 219.54 C533.06 219.54 539.18 242.72 549.38 242.72 C559.58 242.72 565.70 242.72 575.90 242.72 C586.10 242.72 592.22 253.33 602.42 253.33" fill="none" stroke="#5a63ee" stroke-width="1.4"/></svg>
<div class="t" style="left:303.52px;top:266.65px;font-size:5px;color:#8c9097;">0</div>
<div class="t" style="left:297.96px;top:251.60px;font-size:5px;color:#8c9097;">200</div>
<div class="t" style="left:297.96px;top:236.55px;font-size:5px;color:#8c9097;">400</div>
<div class="t" style="left:297.96px;top:221.50px;font-size:5px;color:#8c9097;">600</div>
<div class="t" style="left:297.96px;top:206.45px;font-size:5px;color:#8c9097;">800</div>
<div class="t" style="left:295.18px;top:191.40px;font-size:5px;color:#8c9097;">1000</div>
<div class="t" style="left:306.35px;top:276.05px;font-size:5.4px;color:#8c9097;">Jan</div>
<div class="t" style="left:332.57px;top:276.05px;font-size:5.4px;color:#8c9097;">Feb</div>
<div class="t" style="left:359.09px;top:276.05px;font-size:5.4px;color:#8c9097;">Mar</div>
<div class="t" style="left:386.06px;top:276.05px;font-size:5.4px;color:#8c9097;">Apr</div>
<div class="t" style="left:411.69px;top:276.05px;font-size:5.4px;color:#8c9097;">May</div>
<div class="t" style="left:438.95px;top:276.05px;font-size:5.4px;color:#8c9097;">Jun</div>
<div class="t" style="left:466.37px;top:276.05px;font-size:5.4px;color:#8c9097;">Jul</div>
<div class="t" style="left:491.54px;top:276.05px;font-size:5.4px;color:#8c9097;">Aug</div>
<div class="t" style="left:518.51px;top:276.05px;font-size:5.4px;color:#8c9097;">sep</div>
<div class="t" style="left:545.78px;top:276.05px;font-size:5.4px;color:#8c9097;">oct</div>
<div class="t" style="left:571.55px;top:276.05px;font-size:5.4px;color:#8c9097;">nov</div>
<div class="t" style="left:598.07px;top:276.05px;font-size:5.4px;color:#8c9097;">dec</div>
<div class="card" style="left:628px;top:143.9px;width:162.9px;height:154.4px"></div>
<div class="t" style="left:634.70px;top:152.77px;font-size:7.4px;color:#212b37;letter-spacing:-0.268px;">Profit By Sale</div>
<div class="a" style="left:753.9px;top:150.7px;width:30.2px;height:11.2px;border-radius:2px;background:#f6f7f9"></div>
<div class="t" style="left:757.60px;top:154.36px;font-size:5.6px;color:#6e7a93;letter-spacing:-0.224px;">Sort By</div>
<svg class="a" style="left:776.6px;top:155px;width:4.2px;height:3px" viewBox="0 0 8 6" fill="none" stroke="#9aa2b6" stroke-width="1.2" stroke-linecap="round" stroke-linejoin="round"><path d="M1 1.5 L4 4.5 L7 1.5"/></svg>
<div class="a" style="left:634.75px;top:172.05px;width:16.5px;height:16.5px;border-radius:50%;background:rgba(62,72,232,0.12)"></div>
<svg class="a" style="left:639px;top:176.30px;width:8px;height:8px" viewBox="0 0 24 24" fill="none" stroke="#3e48e8" stroke-width="2.2" stroke-linejoin="round"><rect x="4" y="6" width="16" height="13" rx="1.5"/><path d="M20 10 H15 V15 H20 M15 12.5 H15.2"/></svg>
<div class="t" style="left:654.70px;top:172.96px;font-size:6.2px;color:#212b37;letter-spacing:-0.047px;-webkit-text-stroke:0.14px #212b37;">Total Sales</div>
<div class="t" style="left:654.70px;top:182.15px;font-size:5.4px;color:#6e7a93;letter-spacing:-0.131px;">10% Increases</div>
<div class="t" style="left:760.05px;top:172.28px;font-size:8px;color:#212b37;-webkit-text-stroke:0.13px #212b37;"><span style="letter-spacing:-0.5px">$</span><span style="letter-spacing:-1.6px">1</span><span style="letter-spacing:-0.5px">2</span><span style="letter-spacing:-0.9px">,</span><span style="letter-spacing:-0.5px">345</span></div>
<div class="a" style="left:634.7px;top:192.40px;width:149.4px;height:1.3px;border-radius:1px;background:#f3f4f7"></div>
<div class="a" style="left:634.7px;top:192.40px;width:119.2px;height:1.3px;border-radius:1px;background:#3e48e8"></div>
<div class="a" style="left:634.75px;top:203.80px;width:16.5px;height:16.5px;border-radius:50%;background:rgba(158,92,247,0.12)"></div>
<svg class="a" style="left:639px;top:208.05px;width:8px;height:8px" viewBox="0 0 24 24" fill="none" stroke="#9e5cf7" stroke-width="2.2" stroke-linejoin="round"><rect x="5" y="4" width="14" height="16" rx="1"/><rect x="9" y="9" width="6" height="6"/></svg>
<div class="t" style="left:654.70px;top:204.71px;font-size:6.2px;color:#212b37;letter-spacing:0.006px;-webkit-text-stroke:0.14px #212b37;">Total Profit</div>
<div class="t" style="left:654.70px;top:213.90px;font-size:5.4px;color:#6e7a93;letter-spacing:-0.156px;">12% Increases</div>
<div class="t" style="left:761.90px;top:204.03px;font-size:8px;color:#212b37;letter-spacing:-0.474px;-webkit-text-stroke:0.13px #212b37;">$9,345</div>
<div class="a" style="left:634.7px;top:224.15px;width:149.4px;height:1.3px;border-radius:1px;background:#f3f4f7"></div>
<div class="a" style="left:634.7px;top:224.15px;width:112.3px;height:1.3px;border-radius:1px;background:#9e5cf7"></div>
<div class="a" style="left:634.75px;top:235.55px;width:16.5px;height:16.5px;border-radius:50%;background:rgba(227,84,212,0.12)"></div>
<svg class="a" style="left:639px;top:239.80px;width:8px;height:8px" viewBox="0 0 24 24" fill="none" stroke="#e354d4" stroke-width="2.2" stroke-linejoin="round"><rect x="5" y="4" width="14" height="16" rx="1"/><rect x="9" y="9" width="6" height="6"/></svg>
<div class="t" style="left:654.70px;top:236.46px;font-size:6.2px;color:#212b37;letter-spacing:-0.055px;-webkit-text-stroke:0.14px #212b37;">Total Revenue</div>
<div class="t" style="left:654.70px;top:245.65px;font-size:5.4px;color:#6e7a93;letter-spacing:-0.270px;">11% Decrease</div>
<div class="t" style="left:761.90px;top:235.78px;font-size:8px;color:#212b37;letter-spacing:-0.474px;-webkit-text-stroke:0.13px #212b37;">$9,345</div>
<div class="a" style="left:634.7px;top:255.90px;width:149.4px;height:1.3px;border-radius:1px;background:#f3f4f7"></div>
<div class="a" style="left:634.7px;top:255.90px;width:116.3px;height:1.3px;border-radius:1px;background:#e354d4"></div>
<div class="a" style="left:634.75px;top:267.30px;width:16.5px;height:16.5px;border-radius:50%;background:rgba(254,84,155,0.12)"></div>
<svg class="a" style="left:639px;top:271.55px;width:8px;height:8px" viewBox="0 0 24 24" fill="none" stroke="#fe549b" stroke-width="2.2" stroke-linejoin="round"><rect x="5" y="4" width="14" height="16" rx="1"/><rect x="9" y="9" width="6" height="6"/></svg>
<div class="t" style="left:654.70px;top:268.21px;font-size:6.2px;color:#212b37;-webkit-text-stroke:0.14px #212b37;">Total loss</div>
<div class="t" style="left:654.70px;top:277.40px;font-size:5.4px;color:#6e7a93;letter-spacing:-0.270px;">11% Decrease</div>
<div class="t" style="left:761.86px;top:267.53px;font-size:8px;color:#212b37;-webkit-text-stroke:0.13px #212b37;"><span style="letter-spacing:-0.48px">$</span><span style="letter-spacing:-1.7px">11</span><span style="letter-spacing:-0.9px">,</span><span style="letter-spacing:-0.48px">345</span></div>
<div class="a" style="left:634.7px;top:287.65px;width:149.4px;height:1.3px;border-radius:1px;background:#f3f4f7"></div>
<div class="a" style="left:634.7px;top:287.65px;width:101.3px;height:1.3px;border-radius:1px;background:#fe549b"></div>
<!-- row3 -->
<div class="card" style="left:109.3px;top:309.2px;width:221px;height:178.3px"></div>
<div class="t" style="left:116.50px;top:318.97px;font-size:7.2px;color:#212b37;letter-spacing:-0.240px;">Tasks List</div>
<div class="a" style="left:259.9px;top:315.8px;width:24.4px;height:14.2px;border-radius:2px;background:#e7e8fc"></div>
<div class="t" style="left:264.00px;top:320.91px;font-size:5.9px;color:#3e48e8;letter-spacing:0.195px;">Today</div>
<div class="a" style="left:287.8px;top:315.8px;width:35.4px;height:14.2px;border-radius:2px;background:#f6f7f9"></div>
<div class="t" style="left:291.60px;top:320.91px;font-size:5.9px;color:#212b37;letter-spacing:0.181px;">Upcoming</div>
<div class="a" style="left:116.4px;top:341.50px;width:5.3px;height:5.3px;border-radius:1px;background:#fff;border:.6px solid #e3e6ee"></div>
<div class="t" style="left:127.50px;top:341.41px;font-size:6.1px;color:#212b37;letter-spacing:0.030px;-webkit-text-stroke:0.14px #212b37;">Review Marketing Campaign Strategy</div>
<div class="t" style="left:127.50px;top:349.75px;font-size:5.3px;color:#6a74b5;letter-spacing:0.253px;">Nemo enim ipsam voluptatem</div>
<div class="a" style="left:233.0px;top:341.40px;width:5.6px;height:5.6px;border-radius:1.2px;background:#e7e8fc"></div>
<svg class="a" style="left:234.2px;top:342.70px;width:3px;height:3px" viewBox="0 0 8 8" fill="none" stroke="#3e48e8" stroke-width="1.2" stroke-linejoin="round"><path d="M1.5 1 H6.5 L1.5 7 H6.5 Z"/></svg>
<div class="a" style="left:298.5px;top:339.65px;width:11.6px;height:11.7px;border-radius:1.5px;background:#dff1fd"></div>
<svg class="a" style="left:301.8px;top:342.95px;width:5px;height:5px" viewBox="0 0 12 12" fill="none" stroke="#0c9cfc" stroke-width="1.5" stroke-linecap="round" stroke-linejoin="round"><path d="M5 2 H2 V10 H10 V7 M6 6 L10.5 1.5 M7.5 1.5 H10.5 V4.5"/></svg>
<div class="a" style="left:311.6px;top:339.65px;width:11.6px;height:11.7px;border-radius:1.5px;background:#fee6e6"></div>
<svg class="a" style="left:314.9px;top:342.95px;width:5px;height:5px" viewBox="0 0 12 12" fill="#fb5a5a" stroke="none"><path d="M4.5 1 H7.5 V2 H10.5 V3.5 H1.5 V2 H4.5 Z M2.5 4.5 H9.5 L9 11 H3 Z"/></svg>
<div class="a" style="left:116.4px;top:366.54px;width:5.3px;height:5.3px;border-radius:1px;background:#3e48e8"></div>
<svg class="a" style="left:117.2px;top:367.44px;width:3.7px;height:3.7px" viewBox="0 0 8 8" fill="none" stroke="#fff" stroke-width="1.5" stroke-linecap="round" stroke-linejoin="round"><path d="M1.5 4.2 L3.3 6 L6.6 2.2"/></svg>
<div class="t" style="left:127.50px;top:366.45px;font-size:6.1px;color:#212b37;letter-spacing:0.043px;-webkit-text-stroke:0.14px #212b37;">Update Client Database</div>
<div class="t" style="left:127.50px;top:374.79px;font-size:5.3px;color:#6a74b5;letter-spacing:0.068px;">Eos dolor ea</div>
<div class="a" style="left:195.3px;top:366.44px;width:5.6px;height:5.6px;border-radius:1.2px;background:#def7f0"></div>
<svg class="a" style="left:196.4px;top:367.64px;width:3.2px;height:3.2px" viewBox="0 0 8 8" fill="none" stroke="#21ce9e" stroke-width="1.3" stroke-linecap="round" stroke-linejoin="round"><path d="M1.5 4.2 L3.3 6 L6.6 2.2"/></svg>
<div class="a" style="left:298.5px;top:364.69px;width:11.6px;height:11.7px;border-radius:1.5px;background:#dff1fd"></div>
<svg class="a" style="left:301.8px;top:367.99px;width:5px;height:5px" viewBox="0 0 12 12" fill="none" stroke="#0c9cfc" stroke-width="1.5" stroke-linecap="round" stroke-linejoin="round"><path d="M5 2 H2 V10 H10 V7 M6 6 L10.5 1.5 M7.5 1.5 H10.5 V4.5"/></svg>
<div class="a" style="left:311.6px;top:364.69px;width:11.6px;height:11.7px;border-radius:1.5px;background:#fee6e6"></div>
<svg class="a" style="left:314.9px;top:367.99px;width:5px;height:5px" viewBox="0 0 12 12" fill="#fb5a5a" stroke="none"><path d="M4.5 1 H7.5 V2 H10.5 V3.5 H1.5 V2 H4.5 Z M2.5 4.5 H9.5 L9 11 H3 Z"/></svg>
<div class="a" style="left:116.4px;top:391.58px;width:5.3px;height:5.3px;border-radius:1px;background:#fff;border:.6px solid #e3e6ee"></div>
<div class="t" style="left:127.50px;top:391.49px;font-size:6.1px;color:#212b37;letter-spacing:-0.053px;-webkit-text-stroke:0.14px #212b37;">Prepare Monthly Sales Report</div>
<div class="t" style="left:127.50px;top:399.83px;font-size:5.3px;color:#6a74b5;letter-spacing:0.219px;">Nonumy erat ipsum ut ipsum</div>
<div class="a" style="left:209.9px;top:391.48px;width:5.6px;height:5.6px;border-radius:1.2px;background:#fbe5f9"></div>
<div class="a" style="left:211.1px;top:392.78px;width:3px;height:3px;border-radius:50%;border:.7px solid #e354d4"></div>
<div class="a" style="left:298.5px;top:389.73px;width:11.6px;height:11.7px;border-radius:1.5px;background:#dff1fd"></div>
<svg class="a" style="left:301.8px;top:393.03px;width:5px;height:5px" viewBox="0 0 12 12" fill="none" stroke="#0c9cfc" stroke-width="1.5" stroke-linecap="round" stroke-linejoin="round"><path d="M5 2 H2 V10 H10 V7 M6 6 L10.5 1.5 M7.5 1.5 H10.5 V4.5"/></svg>
<div class="a" style="left:311.6px;top:389.73px;width:11.6px;height:11.7px;border-radius:1.5px;background:#fee6e6"></div>
<svg class="a" style="left:314.9px;top:393.03px;width:5px;height:5px" viewBox="0 0 12 12" fill="#fb5a5a" stroke="none"><path d="M4.5 1 H7.5 V2 H10.5 V3.5 H1.5 V2 H4.5 Z M2.5 4.5 H9.5 L9 11 H3 Z"/></svg>
<div class="a" style="left:116.4px;top:416.62px;width:5.3px;height:5.3px;border-radius:1px;background:#3e48e8"></div>
<svg class="a" style="left:117.2px;top:417.52px;width:3.7px;height:3.7px" viewBox="0 0 8 8" fill="none" stroke="#fff" stroke-width="1.5" stroke-linecap="round" stroke-linejoin="round"><path d="M1.5 4.2 L3.3 6 L6.6 2.2"/></svg>
<div class="t" style="left:127.50px;top:416.53px;font-size:6.1px;color:#212b37;letter-spacing:0.031px;-webkit-text-stroke:0.14px #212b37;">Schedule Team Meeting</div>
<div class="t" style="left:127.50px;top:424.87px;font-size:5.3px;color:#6a74b5;letter-spacing:0.253px;">Nemo enim ipsam voluptatem</div>
<div class="a" style="left:195.6px;top:416.52px;width:5.6px;height:5.6px;border-radius:1.2px;background:#def7f0"></div>
<svg class="a" style="left:196.7px;top:417.72px;width:3.2px;height:3.2px" viewBox="0 0 8 8" fill="none" stroke="#21ce9e" stroke-width="1.3" stroke-linecap="round" stroke-linejoin="round"><path d="M1.5 4.2 L3.3 6 L6.6 2.2"/></svg>
<div class="a" style="left:298.5px;top:414.77px;width:11.6px;height:11.7px;border-radius:1.5px;background:#dff1fd"></div>
<svg class="a" style="left:301.8px;top:418.07px;width:5px;height:5px" viewBox="0 0 12 12" fill="none" stroke="#0c9cfc" stroke-width="1.5" stroke-linecap="round" stroke-linejoin="round"><path d="M5 2 H2 V10 H10 V7 M6 6 L10.5 1.5 M7.5 1.5 H10.5 V4.5"/></svg>
<div class="a" style="left:311.6px;top:414.77px;width:11.6px;height:11.7px;border-radius:1.5px;background:#fee6e6"></div>
<svg class="a" style="left:314.9px;top:418.07px;width:5px;height:5px" viewBox="0 0 12 12" fill="#fb5a5a" stroke="none"><path d="M4.5 1 H7.5 V2 H10.5 V3.5 H1.5 V2 H4.5 Z M2.5 4.5 H9.5 L9 11 H3 Z"/></svg>
<div class="a" style="left:116.4px;top:441.66px;width:5.3px;height:5.3px;border-radius:1px;background:#fff;border:.6px solid #e3e6ee"></div>
<div class="t" style="left:127.50px;top:441.57px;font-size:6.1px;color:#212b37;letter-spacing:-0.011px;-webkit-text-stroke:0.14px #212b37;">Update User Database</div>
<div class="t" style="left:127.50px;top:449.91px;font-size:5.3px;color:#6a74b5;letter-spacing:0.068px;">Eos dolor ea</div>
<div class="a" style="left:191.5px;top:441.56px;width:5.6px;height:5.6px;border-radius:1.2px;background:#e7e8fc"></div>
<svg class="a" style="left:192.7px;top:442.86px;width:3px;height:3px" viewBox="0 0 8 8" fill="none" stroke="#3e48e8" stroke-width="1.2" stroke-linejoin="round"><path d="M1.5 1 H6.5 L1.5 7 H6.5 Z"/></svg>
<div class="a" style="left:298.5px;top:439.81px;width:11.6px;height:11.7px;border-radius:1.5px;background:#dff1fd"></div>
<svg class="a" style="left:301.8px;top:443.11px;width:5px;height:5px" viewBox="0 0 12 12" fill="none" stroke="#0c9cfc" stroke-width="1.5" stroke-linecap="round" stroke-linejoin="round"><path d="M5 2 H2 V10 H10 V7 M6 6 L10.5 1.5 M7.5 1.5 H10.5 V4.5"/></svg>
<div class="a" style="left:311.6px;top:439.81px;width:11.6px;height:11.7px;border-radius:1.5px;background:#fee6e6"></div>
<svg class="a" style="left:314.9px;top:443.11px;width:5px;height:5px" viewBox="0 0 12 12" fill="#fb5a5a" stroke="none"><path d="M4.5 1 H7.5 V2 H10.5 V3.5 H1.5 V2 H4.5 Z M2.5 4.5 H9.5 L9 11 H3 Z"/></svg>
<div class="a" style="left:116.4px;top:466.70px;width:5.3px;height:5.3px;border-radius:1px;background:#3e48e8"></div>
<svg class="a" style="left:117.2px;top:467.60px;width:3.7px;height:3.7px" viewBox="0 0 8 8" fill="none" stroke="#fff" stroke-width="1.5" stroke-linecap="round" stroke-linejoin="round"><path d="M1.5 4.2 L3.3 6 L6.6 2.2"/></svg>
<div class="t" style="left:127.50px;top:466.61px;font-size:6.1px;color:#212b37;letter-spacing:0.010px;-webkit-text-stroke:0.14px #212b37;">Respond to Customer Inquiries</div>
<div class="t" style="left:127.50px;top:474.95px;font-size:5.3px;color:#6a74b5;letter-spacing:0.117px;">Sed labore ut sed</div>
<div class="a" style="left:214.0px;top:466.60px;width:5.6px;height:5.6px;border-radius:1.2px;background:#def7f0"></div>
<svg class="a" style="left:215.1px;top:467.80px;width:3.2px;height:3.2px" viewBox="0 0 8 8" fill="none" stroke="#21ce9e" stroke-width="1.3" stroke-linecap="round" stroke-linejoin="round"><path d="M1.5 4.2 L3.3 6 L6.6 2.2"/></svg>
<div class="a" style="left:298.5px;top:464.85px;width:11.6px;height:11.7px;border-radius:1.5px;background:#dff1fd"></div>
<svg class="a" style="left:301.8px;top:468.15px;width:5px;height:5px" viewBox="0 0 12 12" fill="none" stroke="#0c9cfc" stroke-width="1.5" stroke-linecap="round" stroke-linejoin="round"><path d="M5 2 H2 V10 H10 V7 M6 6 L10.5 1.5 M7.5 1.5 H10.5 V4.5"/></svg>
<div class="a" style="left:311.6px;top:464.85px;width:11.6px;height:11.7px;border-radius:1.5px;background:#fee6e6"></div>
<svg class="a" style="left:314.9px;top:468.15px;width:5px;height:5px" viewBox="0 0 12 12" fill="#fb5a5a" stroke="none"><path d="M4.5 1 H7.5 V2 H10.5 V3.5 H1.5 V2 H4.5 Z M2.5 4.5 H9.5 L9 11 H3 Z"/></svg>
<div class="card" style="left:339.5px;top:309.2px;width:163.1px;height:178.3px"></div>
<div class="t" style="left:346.50px;top:317.72px;font-size:7.3px;color:#212b37;letter-spacing:-0.179px;">Leads Overview</div>
<div class="a" style="left:466.2px;top:315.8px;width:29.4px;height:12.1px;border-radius:2px;background:#f6f7f9"></div>
<div class="t" style="left:470.00px;top:319.91px;font-size:5.7px;color:#212b37;letter-spacing:-0.022px;">Yearly</div>
<svg class="a" style="left:487.6px;top:320.6px;width:4.2px;height:3px" viewBox="0 0 8 6" fill="none" stroke="#7c859b" stroke-width="1.2" stroke-linecap="round" stroke-linejoin="round"><path d="M1 1.5 L4 4.5 L7 1.5"/></svg>
<svg class="a" style="left:0;top:0;width:800px;height:600px" viewBox="0 0 800 600"><polygon points="419.60,384.82 429.28,390.41 429.28,401.59 419.60,407.18 409.92,401.59 409.92,390.41" fill="none" stroke="#f0f1f6" stroke-width=".6"/><polygon points="419.60,373.65 438.96,384.82 438.96,407.18 419.60,418.35 400.24,407.18 400.24,384.82" fill="none" stroke="#f0f1f6" stroke-width=".6"/><polygon points="419.60,362.48 448.63,379.24 448.63,412.76 419.60,429.52 390.57,412.76 390.57,379.24" fill="none" stroke="#f0f1f6" stroke-width=".6"/><polygon points="419.60,351.30 458.31,373.65 458.31,418.35 419.60,440.70 380.89,418.35 380.89,373.65" fill="none" stroke="#f0f1f6" stroke-width=".6"/><line x1="419.6" y1="396" x2="419.60" y2="351.30" stroke="#f0f1f6" stroke-width=".6"/><line x1="419.6" y1="396" x2="458.31" y2="373.65" stroke="#f0f1f6" stroke-width=".6"/><line x1="419.6" y1="396" x2="458.31" y2="418.35" stroke="#f0f1f6" stroke-width=".6"/><line x1="419.6" y1="396" x2="419.60" y2="440.70" stroke="#f0f1f6" stroke-width=".6"/><line x1="419.6" y1="396" x2="380.89" y2="418.35" stroke="#f0f1f6" stroke-width=".6"/><line x1="419.6" y1="396" x2="380.89" y2="373.65" stroke="#f0f1f6" stroke-width=".6"/><polygon points="419.60,365.83 434.76,387.25 451.86,414.62 419.60,410.15 387.34,414.62 404.44,387.25" fill="#3e48e8" fill-opacity="0.9"/><polygon points="419.60,388.55 452.18,377.19 426.05,399.73 419.60,425.06 413.15,399.73 393.47,380.91" fill="#e354d4" fill-opacity="0.62"/><polygon points="419.60,369.18 427.34,391.53 427.66,400.66 419.60,401.59 409.92,401.59 410.57,390.79" fill="#fe549b" fill-opacity="0.3"/><polygon points="419.60,391.53 444.76,381.47 444.44,410.34 419.60,400.47 406.05,403.82 415.73,393.76" fill="#ff8e6f" fill-opacity="0.6"/></svg>
<div class="t" style="left:414.04px;top:342.25px;font-size:5px;color:#a1a6b3;">2018</div>
<div class="t" style="left:462.14px;top:369.25px;font-size:5px;color:#a1a6b3;">2019</div>
<div class="t" style="left:462.14px;top:414.15px;font-size:5px;color:#a1a6b3;">2020</div>
<div class="t" style="left:414.04px;top:440.75px;font-size:5px;color:#a1a6b3;">2021</div>
<div class="t" style="left:365.94px;top:414.15px;font-size:5px;color:#a1a6b3;">2022</div>
<div class="t" style="left:365.94px;top:369.25px;font-size:5px;color:#a1a6b3;">2023</div>
<div class="t" style="left:415.59px;top:350.25px;font-size:4.8px;color:#a9b6d6;">120</div>
<div class="t" style="left:416.93px;top:361.25px;font-size:4.8px;color:#c9cdf3;">90</div>
<div class="t" style="left:416.93px;top:372.55px;font-size:4.8px;color:#d9d2f6;">60</div>
<div class="t" style="left:416.93px;top:384.25px;font-size:4.8px;color:#e9c9e6;">30</div>
<div class="t" style="left:418.26px;top:395.35px;font-size:4.8px;color:#f0d6d2;">0</div>
<div class="a" style="left:370.2px;top:461.8px;width:2.1px;height:2.1px;border-radius:50%;background:#3e48e8"></div>
<div class="t" style="left:376.20px;top:460.81px;font-size:5.5px;color:#212b37;letter-spacing:-0.085px;">Hot Leads</div>
<div class="a" style="left:405.0px;top:461.8px;width:2.1px;height:2.1px;border-radius:50%;background:#e97fdf"></div>
<div class="t" style="left:411.00px;top:460.81px;font-size:5.5px;color:#212b37;letter-spacing:0.046px;">Warm Leads</div>
<div class="a" style="left:446.8px;top:461.8px;width:2.1px;height:2.1px;border-radius:50%;background:#fe9cc5"></div>
<div class="t" style="left:452.90px;top:460.81px;font-size:5.5px;color:#212b37;letter-spacing:-0.036px;">Cold Leads</div>
<div class="a" style="left:411.6px;top:471.0px;width:2.1px;height:2.1px;border-radius:50%;background:#ffb49f"></div>
<div class="t" style="left:417.00px;top:470.00px;font-size:5.5px;color:#212b37;letter-spacing:0.148px;">Qualified</div>
<div class="card" style="left:512.4px;top:309.2px;width:278.5px;height:178.3px"></div>
<div class="t" style="left:519.70px;top:317.57px;font-size:7.2px;color:#212b37;letter-spacing:-0.058px;">Sales Performance</div>
<div class="a" style="left:753.9px;top:315.9px;width:30.2px;height:12.1px;border-radius:2px;background:#f6f7f9"></div>
<div class="t" style="left:758.00px;top:320.01px;font-size:5.7px;color:#212b37;letter-spacing:0.153px;">Today</div>
<svg class="a" style="left:776.2px;top:320.7px;width:4.2px;height:3px" viewBox="0 0 8 6" fill="none" stroke="#7c859b" stroke-width="1.2" stroke-linecap="round" stroke-linejoin="round"><path d="M1 1.5 L4 4.5 L7 1.5"/></svg>
<div class="t" style="left:523.35px;top:337.96px;font-size:6px;color:#212b37;letter-spacing:-0.329px;-webkit-text-stroke:0.08px #212b37;">S.No.</div>
<div class="t" style="left:571.70px;top:337.96px;font-size:6px;color:#212b37;letter-spacing:0.219px;-webkit-text-stroke:0.08px #212b37;">Representative</div>
<div class="t" style="left:652.90px;top:337.96px;font-size:6px;color:#212b37;letter-spacing:0.138px;-webkit-text-stroke:0.08px #212b37;">Deals Closed</div>
<div class="t" style="left:714.80px;top:337.96px;font-size:6px;color:#212b37;letter-spacing:0.060px;-webkit-text-stroke:0.08px #212b37;">Leads</div>
<div class="t" style="left:754.25px;top:337.96px;font-size:6px;color:#212b37;letter-spacing:0.090px;-webkit-text-stroke:0.08px #212b37;">Rate (%)</div>
<div class="a" style="left:512.4px;top:350.80px;width:278.5px;height:.7px;background:#f5f6f9"></div>
<div class="t" style="left:528.64px;top:359.86px;font-size:5.6px;color:#4a5263;">1</div>
<div class="a" style="left:554px;top:357.70px;width:8.5px;height:8.5px;border-radius:1.5px;background:#f4a433;overflow:hidden"><div class="a" style="left:2.4px;top:1.4px;width:3.7px;height:4px;border-radius:50%;background:#d9a07a"></div><div class="a" style="left:2.1px;top:.8px;width:4.3px;height:2.2px;border-radius:2px 2px 0 0;background:#3a2a20"></div><div class="a" style="left:1.2px;top:5.4px;width:6.1px;height:4px;border-radius:2.5px 2.5px 0 0;background:#2f3c7e"></div></div>
<div class="t" style="left:565.80px;top:359.71px;font-size:5.9px;color:#212b37;letter-spacing:0.168px;-webkit-text-stroke:0.1px #212b37;">John Joe</div>
<div class="t" style="left:668.18px;top:359.86px;font-size:5.6px;color:#4a5263;">15</div>
<div class="t" style="left:718.23px;top:359.86px;font-size:5.6px;color:#4a5263;">100</div>
<div class="t" style="left:756.55px;top:359.86px;font-size:5.6px;color:#4a5263;">15.0</div>
<svg class="a" style="left:770.4px;top:360.30px;width:4.6px;height:3.9px" viewBox="0 0 5 4.2"><path d="M0.6 3.4 L2.5 0.8 L4.4 3.4 Z" fill="#21ce9e"/></svg>
<div class="a" style="left:512.4px;top:373.56px;width:278.5px;height:.7px;background:#f5f6f9"></div>
<div class="t" style="left:528.64px;top:382.66px;font-size:5.6px;color:#4a5263;">2</div>
<div class="a" style="left:554px;top:380.50px;width:8.5px;height:8.5px;border-radius:1.5px;background:#fb8d8d;overflow:hidden"><div class="a" style="left:2.4px;top:1.4px;width:3.7px;height:4px;border-radius:50%;background:#d9a07a"></div><div class="a" style="left:2.1px;top:.8px;width:4.3px;height:2.2px;border-radius:2px 2px 0 0;background:#2b2b33"></div><div class="a" style="left:1.2px;top:5.4px;width:6.1px;height:4px;border-radius:2.5px 2.5px 0 0;background:#1d2a44"></div></div>
<div class="t" style="left:565.80px;top:382.51px;font-size:5.9px;color:#212b37;letter-spacing:0.170px;-webkit-text-stroke:0.1px #212b37;">Jane Smith</div>
<div class="t" style="left:668.18px;top:382.66px;font-size:5.6px;color:#4a5263;">20</div>
<div class="t" style="left:718.23px;top:382.66px;font-size:5.6px;color:#4a5263;">120</div>
<div class="t" style="left:756.55px;top:382.66px;font-size:5.6px;color:#4a5263;">16.7</div>
<svg class="a" style="left:770.4px;top:383.10px;width:4.6px;height:3.9px" viewBox="0 0 5 4.2"><path d="M0.6 0.8 L4.4 0.8 L2.5 3.4 Z" fill="#fb4242"/></svg>
<div class="a" style="left:512.4px;top:396.32px;width:278.5px;height:.7px;background:#f5f6f9"></div>
<div class="t" style="left:528.64px;top:405.46px;font-size:5.6px;color:#4a5263;">3</div>
<div class="a" style="left:554px;top:403.30px;width:8.5px;height:8.5px;border-radius:1.5px;background:#2f5bea;overflow:hidden"><div class="a" style="left:2.4px;top:1.4px;width:3.7px;height:4px;border-radius:50%;background:#d9a07a"></div><div class="a" style="left:2.1px;top:.8px;width:4.3px;height:2.2px;border-radius:2px 2px 0 0;background:#2a1c16"></div><div class="a" style="left:1.2px;top:5.4px;width:6.1px;height:4px;border-radius:2.5px 2.5px 0 0;background:#f2b21c"></div></div>
<div class="t" style="left:565.80px;top:405.31px;font-size:5.9px;color:#212b37;letter-spacing:0.163px;-webkit-text-stroke:0.1px #212b37;">Michael Johnson</div>
<div class="t" style="left:668.18px;top:405.46px;font-size:5.6px;color:#4a5263;">18</div>
<div class="t" style="left:718.44px;top:405.46px;font-size:5.6px;color:#4a5263;">110</div>
<div class="t" style="left:756.55px;top:405.46px;font-size:5.6px;color:#4a5263;">16.4</div>
<svg class="a" style="left:770.4px;top:405.90px;width:4.6px;height:3.9px" viewBox="0 0 5 4.2"><path d="M0.6 3.4 L2.5 0.8 L4.4 3.4 Z" fill="#21ce9e"/></svg>
<div class="a" style="left:512.4px;top:419.08px;width:278.5px;height:.7px;background:#f5f6f9"></div>
<div class="t" style="left:528.64px;top:428.26px;font-size:5.6px;color:#4a5263;">4</div>
<div class="a" style="left:554px;top:426.10px;width:8.5px;height:8.5px;border-radius:1.5px;background:#f4a433;overflow:hidden"><div class="a" style="left:2.4px;top:1.4px;width:3.7px;height:4px;border-radius:50%;background:#d9a07a"></div><div class="a" style="left:2.1px;top:.8px;width:4.3px;height:2.2px;border-radius:2px 2px 0 0;background:#3a2a20"></div><div class="a" style="left:1.2px;top:5.4px;width:6.1px;height:4px;border-radius:2.5px 2.5px 0 0;background:#2a2f52"></div></div>
<div class="t" style="left:565.80px;top:428.11px;font-size:5.9px;color:#212b37;letter-spacing:0.023px;-webkit-text-stroke:0.1px #212b37;">Emily Davis</div>
<div class="t" style="left:668.18px;top:428.26px;font-size:5.6px;color:#4a5263;">22</div>
<div class="t" style="left:718.23px;top:428.26px;font-size:5.6px;color:#4a5263;">130</div>
<div class="t" style="left:756.55px;top:428.26px;font-size:5.6px;color:#4a5263;">16.9</div>
<svg class="a" style="left:770.4px;top:428.70px;width:4.6px;height:3.9px" viewBox="0 0 5 4.2"><path d="M0.6 3.4 L2.5 0.8 L4.4 3.4 Z" fill="#21ce9e"/></svg>
<div class="a" style="left:512.4px;top:441.84px;width:278.5px;height:.7px;background:#f5f6f9"></div>
<div class="t" style="left:528.64px;top:451.06px;font-size:5.6px;color:#4a5263;">5</div>
<div class="a" style="left:554px;top:448.90px;width:8.5px;height:8.5px;border-radius:1.5px;background:#f7a38b;overflow:hidden"><div class="a" style="left:2.4px;top:1.4px;width:3.7px;height:4px;border-radius:50%;background:#d9a07a"></div><div class="a" style="left:2.1px;top:.8px;width:4.3px;height:2.2px;border-radius:2px 2px 0 0;background:#2b1a1a"></div><div class="a" style="left:1.2px;top:5.4px;width:6.1px;height:4px;border-radius:2.5px 2.5px 0 0;background:#e9e0dc"></div></div>
<div class="t" style="left:565.80px;top:450.91px;font-size:5.9px;color:#212b37;letter-spacing:0.155px;-webkit-text-stroke:0.1px #212b37;">Anna Garcia</div>
<div class="t" style="left:668.18px;top:451.06px;font-size:5.6px;color:#4a5263;">17</div>
<div class="t" style="left:718.23px;top:451.06px;font-size:5.6px;color:#4a5263;">105</div>
<div class="t" style="left:756.55px;top:451.06px;font-size:5.6px;color:#4a5263;">16.2</div>
<svg class="a" style="left:770.4px;top:451.50px;width:4.6px;height:3.9px" viewBox="0 0 5 4.2"><path d="M0.6 0.8 L4.4 0.8 L2.5 3.4 Z" fill="#fb4242"/></svg>
<div class="a" style="left:512.4px;top:464.60px;width:278.5px;height:.7px;background:#f5f6f9"></div>
<div class="t" style="left:528.64px;top:473.86px;font-size:5.6px;color:#4a5263;">6</div>
<div class="a" style="left:554px;top:471.70px;width:8.5px;height:8.5px;border-radius:1.5px;background:#b9bcc4;overflow:hidden"><div class="a" style="left:2.4px;top:1.4px;width:3.7px;height:4px;border-radius:50%;background:#d9a07a"></div><div class="a" style="left:2.1px;top:.8px;width:4.3px;height:2.2px;border-radius:2px 2px 0 0;background:#4a4a52"></div><div class="a" style="left:1.2px;top:5.4px;width:6.1px;height:4px;border-radius:2.5px 2.5px 0 0;background:#e9e9ee"></div></div>
<div class="t" style="left:565.80px;top:473.71px;font-size:5.9px;color:#212b37;letter-spacing:0.088px;-webkit-text-stroke:0.1px #212b37;">Kiara Nousin</div>
<div class="t" style="left:668.18px;top:473.86px;font-size:5.6px;color:#4a5263;">20</div>
<div class="t" style="left:719.78px;top:473.86px;font-size:5.6px;color:#4a5263;">35</div>
<div class="t" style="left:756.40px;top:473.86px;font-size:5.6px;color:#4a5263;">57%</div>
<svg class="a" style="left:770.4px;top:474.30px;width:4.6px;height:3.9px" viewBox="0 0 5 4.2"><path d="M0.6 3.4 L2.5 0.8 L4.4 3.4 Z" fill="#21ce9e"/></svg>
<!-- row4 -->
<div class="card" style="left:109.3px;top:497.6px;width:681.6px;height:120px"></div>
<div class="t" style="left:116.50px;top:506.57px;font-size:7.2px;color:#212b37;letter-spacing:-0.214px;">Leads Report</div>
<div class="a" style="left:749.7px;top:504.7px;width:34.9px;height:11.8px;border-radius:2px;background:#f6f7f9"></div>
<div class="t" style="left:754.50px;top:508.66px;font-size:5.6px;color:#212b37;letter-spacing:0.029px;">View All</div>
<svg class="a" style="left:776.2px;top:509.4px;width:4.2px;height:3px" viewBox="0 0 8 6" fill="none" stroke="#7c859b" stroke-width="1.2" stroke-linecap="round" stroke-linejoin="round"><path d="M1 1.5 L4 4.5 L7 1.5"/></svg>
<div class="a" style="left:116.2px;top:526px;width:668.2px;height:80px;border:.7px solid #f5f6fa;border-bottom:none"></div>
<div class="a" style="left:116.2px;top:546.2px;width:668.2px;height:.7px;background:#f5f6fa"></div>
<div class="a" style="left:116.2px;top:574.7px;width:668.2px;height:.7px;background:#f5f6fa"></div>
<div class="a" style="left:152.5px;top:526px;width:.7px;height:80px;background:#f5f6fa"></div>
<div class="a" style="left:275.9px;top:526px;width:.7px;height:80px;background:#f5f6fa"></div>
<div class="a" style="left:359px;top:526px;width:.7px;height:80px;background:#f5f6fa"></div>
<div class="a" style="left:461.4px;top:526px;width:.7px;height:80px;background:#f5f6fa"></div>
<div class="a" style="left:519.6px;top:526px;width:.7px;height:80px;background:#f5f6fa"></div>
<div class="a" style="left:580.8px;top:526px;width:.7px;height:80px;background:#f5f6fa"></div>
<div class="a" style="left:644px;top:526px;width:.7px;height:80px;background:#f5f6fa"></div>
<div class="a" style="left:692.7px;top:526px;width:.7px;height:80px;background:#f5f6fa"></div>
<div class="t" style="left:122.70px;top:534.11px;font-size:5.9px;color:#212b37;letter-spacing:-0.269px;-webkit-text-stroke:0.06px #212b37;">S.NO</div>
<div class="t" style="left:159.90px;top:534.11px;font-size:5.9px;color:#212b37;letter-spacing:0.164px;-webkit-text-stroke:0.06px #212b37;">Lead</div>
<div class="t" style="left:282.90px;top:534.11px;font-size:5.9px;color:#212b37;letter-spacing:0.458px;-webkit-text-stroke:0.06px #212b37;">Company Name</div>
<div class="t" style="left:366.40px;top:534.11px;font-size:5.9px;color:#212b37;letter-spacing:0.252px;-webkit-text-stroke:0.06px #212b37;">Phone Number</div>
<div class="t" style="left:468.40px;top:534.11px;font-size:5.9px;color:#212b37;letter-spacing:0.319px;-webkit-text-stroke:0.06px #212b37;">Status</div>
<div class="t" style="left:526.60px;top:534.11px;font-size:5.9px;color:#212b37;letter-spacing:0.246px;-webkit-text-stroke:0.06px #212b37;">Location</div>
<div class="t" style="left:587.80px;top:534.11px;font-size:5.9px;color:#212b37;letter-spacing:0.216px;-webkit-text-stroke:0.06px #212b37;">Date</div>
<div class="t" style="left:650.80px;top:534.11px;font-size:5.9px;color:#212b37;letter-spacing:0.477px;-webkit-text-stroke:0.06px #212b37;">Amount</div>
<div class="t" style="left:700.70px;top:534.11px;font-size:5.9px;color:#212b37;letter-spacing:0.385px;-webkit-text-stroke:0.06px #212b37;">Action</div>
<div class="t" style="left:122.70px;top:558.66px;font-size:5.6px;color:#4a5263;letter-spacing:-0.234px;">01</div>
<div class="a" style="left:159.9px;top:552.80px;width:11.4px;height:11.4px;border-radius:2px;background:#12a5e8;overflow:hidden"><div class="a" style="left:3.3px;top:2px;width:4.8px;height:5.2px;border-radius:50%;background:#e0a884"></div><div class="a" style="left:2.9px;top:1.2px;width:5.6px;height:3px;border-radius:3px 3px 0 0;background:#1e2a44"></div><div class="a" style="left:1.6px;top:7.3px;width:8.2px;height:5px;border-radius:3.5px 3.5px 0 0;background:#ff8e6f"></div></div>
<div class="t" style="left:174.80px;top:554.41px;font-size:6.1px;color:#212b37;letter-spacing:0.185px;">Sophia Sara</div>
<div class="t" style="left:174.80px;top:563.55px;font-size:5.4px;color:#5e6bc4;letter-spacing:0.209px;">sophiasara@gmail.com</div>
<div class="t" style="left:282.90px;top:558.66px;font-size:5.6px;color:#4a5263;letter-spacing:0.105px;">+1(222) 547 6897</div>
<div class="t" style="left:366.40px;top:558.66px;font-size:5.6px;color:#4a5263;letter-spacing:0.167px;">Nova Solutions</div>
<div class="a" style="left:468.4px;top:557.20px;width:28.8px;height:7px;border-radius:1.3px;background:#def7f0"></div>
<div class="t" style="left:471.40px;top:559.20px;font-size:4.6px;color:#21ce9e;letter-spacing:0.334px;-webkit-text-stroke:0.15px #21ce9e;">Won Lead</div>
<svg class="a" style="left:526.8px;top:558.10px;width:4.2px;height:5.2px" viewBox="0 0 10 12"><path d="M5 0.5 C2.5 0.5 0.8 2.3 0.8 4.6 C0.8 7.6 5 11.5 5 11.5 C5 11.5 9.2 7.6 9.2 4.6 C9.2 2.3 7.5 0.5 5 0.5 Z" fill="#6b75b8"/><circle cx="5" cy="4.5" r="1.6" fill="#fff"/></svg>
<div class="t" style="left:534.00px;top:558.66px;font-size:5.6px;color:#4a5263;letter-spacing:0.159px;">Italy</div>
<div class="t" style="left:587.80px;top:558.66px;font-size:5.6px;color:#4a5263;letter-spacing:0.219px;">10-05-2024</div>
<div class="t" style="left:650.80px;top:558.66px;font-size:5.6px;color:#4a5263;letter-spacing:0.034px;">$2457</div>
<div class="a" style="left:700.7px;top:554.10px;width:14px;height:14px;border-radius:50%;background:#e7e8fc"></div>
<svg class="a" style="left:704.2px;top:557.60px;width:7px;height:7px" viewBox="0 0 12 12"><path d="M1 6 C2.5 3.3 4 2.3 6 2.3 C8 2.3 9.5 3.3 11 6 C9.5 8.7 8 9.7 6 9.7 C4 9.7 2.5 8.7 1 6 Z" fill="none" stroke="#3e48e8" stroke-width="1.4"/><circle cx="6" cy="6" r="1.7" fill="#3e48e8"/></svg>
<div class="a" style="left:718.6px;top:554.10px;width:14px;height:14px;border-radius:50%;background:#dff1fd"></div>
<svg class="a" style="left:722.1px;top:557.60px;width:7px;height:7px" viewBox="0 0 12 12"><path d="M2 10 L2.6 7.4 L8 2 L10 4 L4.6 9.4 Z" fill="#0c9cfc"/></svg>
<div class="a" style="left:736.5px;top:554.10px;width:14px;height:14px;border-radius:50%;background:#ffe6f0"></div>
<svg class="a" style="left:740.0px;top:557.60px;width:7px;height:7px" viewBox="0 0 12 12"><path d="M4.5 1.5 H7.5 V2.5 H10 V3.8 H2 V2.5 H4.5 Z M2.9 4.6 H9.1 L8.6 10.5 H3.4 Z" fill="#fe549b"/></svg>
<div class="t" style="left:122.70px;top:586.46px;font-size:5.6px;color:#4a5263;letter-spacing:-0.234px;">02</div>
<div class="a" style="left:159.9px;top:580.60px;width:11.4px;height:11.4px;border-radius:2px;background:#fb7d7d;overflow:hidden"><div class="a" style="left:3.3px;top:2px;width:4.8px;height:5.2px;border-radius:50%;background:#e0a884"></div><div class="a" style="left:2.9px;top:1.2px;width:5.6px;height:3px;border-radius:3px 3px 0 0;background:#2b2b33"></div><div class="a" style="left:1.6px;top:7.3px;width:8.2px;height:5px;border-radius:3.5px 3.5px 0 0;background:#1d2a44"></div></div>
<div class="t" style="left:174.80px;top:582.21px;font-size:6.1px;color:#212b37;letter-spacing:0.132px;">Simon Leo</div>
<div class="t" style="left:174.80px;top:591.35px;font-size:5.4px;color:#5e6bc4;letter-spacing:0.205px;">simonleo@gmail.com</div>
<div class="t" style="left:282.90px;top:586.46px;font-size:5.6px;color:#4a5263;letter-spacing:0.125px;">+1(222) 987 9874</div>
<div class="t" style="left:366.40px;top:586.46px;font-size:5.6px;color:#4a5263;letter-spacing:0.204px;">Global Innovations Ltd.</div>
<div class="a" style="left:468.4px;top:585.00px;width:28.8px;height:7px;border-radius:1.3px;background:#e7e8fc"></div>
<div class="t" style="left:471.40px;top:587.00px;font-size:4.6px;color:#3e48e8;letter-spacing:0.359px;-webkit-text-stroke:0.15px #3e48e8;">New Lead</div>
<svg class="a" style="left:526.8px;top:585.90px;width:4.2px;height:5.2px" viewBox="0 0 10 12"><path d="M5 0.5 C2.5 0.5 0.8 2.3 0.8 4.6 C0.8 7.6 5 11.5 5 11.5 C5 11.5 9.2 7.6 9.2 4.6 C9.2 2.3 7.5 0.5 5 0.5 Z" fill="#6b75b8"/><circle cx="5" cy="4.5" r="1.6" fill="#fff"/></svg>
<div class="t" style="left:534.00px;top:586.46px;font-size:5.6px;color:#4a5263;letter-spacing:-0.013px;">Paris</div>
<div class="t" style="left:587.80px;top:586.46px;font-size:5.6px;color:#4a5263;letter-spacing:0.219px;">12-05-2024</div>
<div class="t" style="left:650.80px;top:586.46px;font-size:5.6px;color:#4a5263;letter-spacing:0.026px;">$14009</div>
<div class="a" style="left:700.7px;top:581.90px;width:14px;height:14px;border-radius:50%;background:#e7e8fc"></div>
<svg class="a" style="left:704.2px;top:585.40px;width:7px;height:7px" viewBox="0 0 12 12"><path d="M1 6 C2.5 3.3 4 2.3 6 2.3 C8 2.3 9.5 3.3 11 6 C9.5 8.7 8 9.7 6 9.7 C4 9.7 2.5 8.7 1 6 Z" fill="none" stroke="#3e48e8" stroke-width="1.4"/><circle cx="6" cy="6" r="1.7" fill="#3e48e8"/></svg>
<div class="a" style="left:718.6px;top:581.90px;width:14px;height:14px;border-radius:50%;background:#dff1fd"></div>
<svg class="a" style="left:722.1px;top:585.40px;width:7px;height:7px" viewBox="0 0 12 12"><path d="M2 10 L2.6 7.4 L8 2 L10 4 L4.6 9.4 Z" fill="#0c9cfc"/></svg>
<div class="a" style="left:736.5px;top:581.90px;width:14px;height:14px;border-radius:50%;background:#ffe6f0"></div>
<svg class="a" style="left:740.0px;top:585.40px;width:7px;height:7px" viewBox="0 0 12 12"><path d="M4.5 1.5 H7.5 V2.5 H10 V3.8 H2 V2.5 H4.5 Z M2.9 4.6 H9.1 L8.6 10.5 H3.4 Z" fill="#fe549b"/></svg>
</div></body></html>
